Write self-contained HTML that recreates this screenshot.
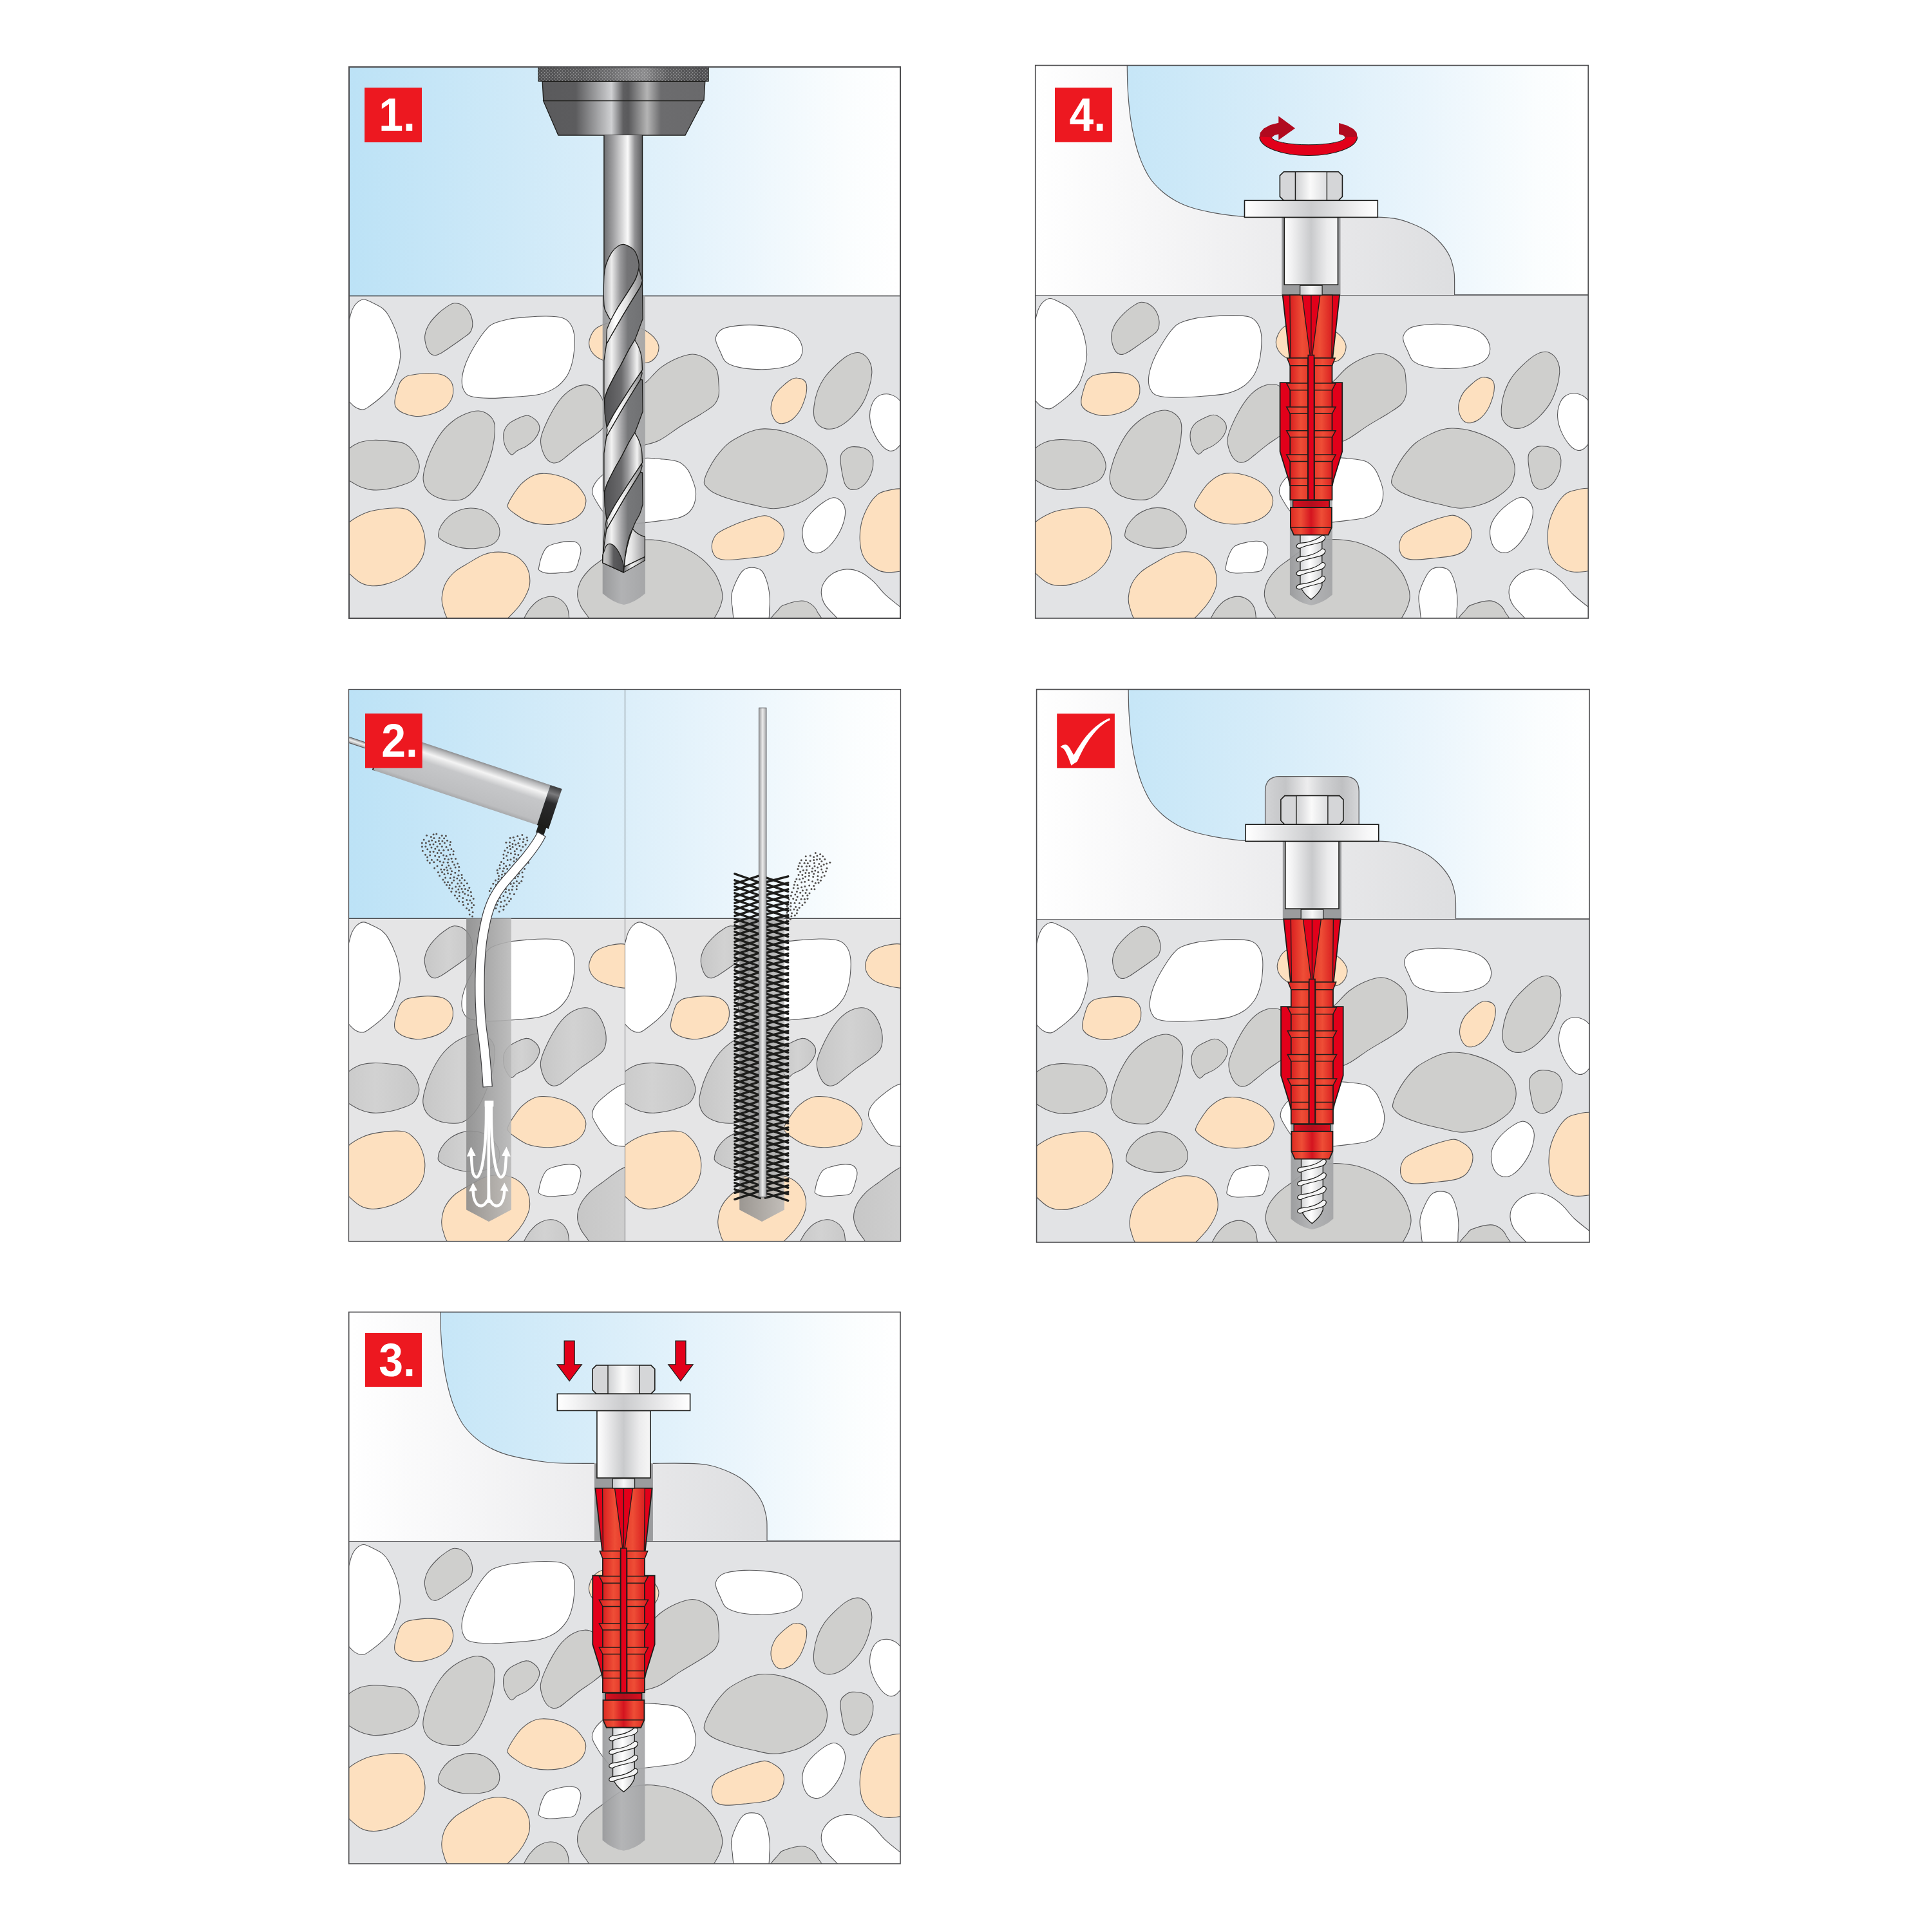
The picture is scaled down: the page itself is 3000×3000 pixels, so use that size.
<!DOCTYPE html>
<html><head><meta charset="utf-8"><title>Installation steps</title>
<style>html,body{margin:0;padding:0;background:#fff}svg{display:block}</style></head>
<body>
<svg xmlns="http://www.w3.org/2000/svg" width="3000" height="3000" viewBox="0 0 3000 3000">
<defs>

<linearGradient id="sky" x1="0" x2="1" y1="0" y2="0">
 <stop offset="0" stop-color="#bce2f6"/><stop offset="0.45" stop-color="#d8edf9"/><stop offset="0.7" stop-color="#eaf5fc"/><stop offset="0.9" stop-color="#fafdfe"/><stop offset="1" stop-color="#ffffff"/>
</linearGradient>
<linearGradient id="fix" x1="0" x2="1" y1="0" y2="0">
 <stop offset="0" stop-color="#ffffff"/><stop offset="0.5" stop-color="#efeff0"/><stop offset="1" stop-color="#dcdddf"/>
</linearGradient>

<g id="stones" stroke="#58585a" stroke-width="1.1">
<path fill="#ffffff" d="M-22.0 437.2C-18.9 422.0 -7.9 413.9 -3.4 404.0C1.1 394.2 2.1 384.4 4.9 378.2C7.7 371.9 10.1 369.0 13.2 366.4C16.3 363.7 19.4 361.8 23.5 362.0C27.7 362.2 33.2 365.5 38.0 367.8C42.8 370.1 48.5 372.8 52.5 376.1C56.5 379.4 58.4 381.4 61.8 387.5C65.3 393.5 70.5 404.7 73.2 412.3C76.0 419.9 77.3 426.5 78.4 433.0C79.5 439.6 80.2 445.4 79.8 451.7C79.5 457.9 78.5 463.0 76.3 470.3C74.2 477.5 71.0 488.2 67.0 495.1C63.0 502.0 58.4 506.2 52.5 511.7C46.6 517.2 37.0 524.6 31.8 528.3C26.6 531.9 25.3 533.3 21.5 533.4C17.7 533.6 13.2 532.1 9.0 529.3C4.9 526.5 1.8 522.6 -3.4 516.9C-8.6 511.2 -18.9 508.4 -22.0 495.1C-25.1 481.8 -25.1 452.3 -22.0 437.2Z"/>
<path style="fill:var(--gs,#cfcfcd)" d="M164.3 367.8C167.8 367.8 172.9 368.7 176.7 370.9C180.5 373.2 184.5 376.8 187.1 381.3C189.7 385.7 191.9 392.6 192.3 397.8C192.6 403.0 191.7 408.2 189.2 412.3C186.6 416.5 182.3 418.5 176.7 422.7C171.2 426.8 161.6 433.4 156.0 437.2C150.5 441.0 147.4 443.5 143.6 445.4C139.8 447.4 136.4 449.1 133.3 449.0C130.2 448.8 127.3 447.4 125.0 444.4C122.6 441.4 120.3 435.6 119.2 430.9C118.1 426.3 117.4 421.6 118.4 416.5C119.3 411.3 121.5 405.4 125.0 399.9C128.5 394.4 134.3 388.2 139.5 383.3C144.6 378.5 151.9 373.5 156.0 370.9C160.2 368.3 160.9 367.8 164.3 367.8Z"/>
<path fill="#ffffff" d="M276.1 389.5C285.8 388.8 297.9 387.9 307.2 388.1C316.5 388.3 325.8 388.6 332.0 390.6C338.2 392.5 341.3 395.6 344.4 399.9C347.5 404.2 349.6 409.6 350.6 416.5C351.7 423.4 351.3 433.4 350.6 441.3C350.0 449.2 348.6 457.2 346.5 464.1C344.4 471.0 342.4 476.8 338.2 482.7C334.1 488.6 328.6 494.8 321.7 499.3C314.8 503.8 307.2 507.2 296.8 509.6C286.5 512.0 272.7 512.7 259.6 513.8C246.4 514.8 229.9 516.0 218.1 515.8C206.4 515.7 195.7 514.8 189.2 512.7C182.6 510.7 181.0 507.4 178.8 503.4C176.6 499.4 175.7 494.4 175.7 488.9C175.7 483.4 176.9 476.8 178.8 470.3C180.7 463.7 183.3 457.2 187.1 449.6C190.9 442.0 197.1 431.6 201.6 424.7C206.1 417.8 210.2 412.3 214.0 408.2C217.8 404.0 218.5 402.5 224.4 399.9C230.2 397.3 240.6 394.4 249.2 392.6C257.8 390.9 266.5 390.3 276.1 389.5Z"/>
<path fill="#fde0bf" d="M98.1 479.6C103.9 478.6 115.0 476.9 122.9 476.9C130.8 476.9 139.8 477.6 145.7 479.6C151.5 481.6 155.3 485.3 158.1 488.9C160.9 492.5 161.9 496.9 162.2 501.3C162.6 505.8 161.9 511.3 160.2 515.8C158.4 520.3 155.3 524.8 151.9 528.3C148.4 531.7 145.0 534.1 139.5 536.5C133.9 539.0 125.0 541.5 118.8 542.8C112.6 544.0 108.1 544.5 102.2 543.8C96.3 543.1 88.4 540.9 83.6 538.6C78.7 536.4 75.3 533.1 73.2 530.3C71.1 527.6 71.1 525.5 71.1 522.0C71.1 518.6 71.8 514.8 73.2 509.6C74.6 504.4 77.0 495.5 79.4 491.0C81.8 486.5 84.6 484.6 87.7 482.7C90.8 480.8 92.2 480.6 98.1 479.6Z"/>
<path style="fill:var(--gs,#cfcfcd)" d="M201.6 535.5C207.1 535.7 212.1 537.9 216.1 540.7C220.0 543.4 223.6 547.6 225.4 552.1C227.2 556.6 227.4 560.5 227.0 567.6C226.7 574.7 225.5 585.2 223.3 594.5C221.1 603.8 218.0 613.8 214.0 623.5C210.0 633.2 205.0 644.5 199.5 652.5C194.0 660.4 187.1 667.4 180.9 671.1C174.7 674.8 169.1 674.8 162.2 674.8C155.3 674.8 146.0 673.5 139.5 671.1C132.9 668.8 126.9 665.2 122.9 660.8C118.9 656.3 116.5 650.1 115.7 644.2C114.8 638.3 115.8 633.2 117.7 625.6C119.6 618.0 122.7 608.0 127.0 598.7C131.4 589.3 137.7 577.6 143.6 569.7C149.5 561.7 155.7 556.0 162.2 551.0C168.8 546.0 176.4 542.2 182.9 539.6C189.5 537.1 196.1 535.3 201.6 535.5Z"/>
<path style="fill:var(--gs,#cfcfcd)" d="M277.1 542.8C281.3 542.9 285.4 545.5 288.5 547.9C291.6 550.3 294.6 554.0 295.8 557.2C297.0 560.5 297.0 563.8 295.8 567.6C294.6 571.4 291.8 576.2 288.5 580.0C285.3 583.8 280.6 587.4 276.1 590.4C271.6 593.3 265.4 595.4 261.6 597.6C257.8 599.9 256.1 604.3 253.3 603.8C250.6 603.3 247.1 598.1 245.1 594.5C243.0 590.9 241.5 586.6 240.9 582.1C240.3 577.6 240.0 572.1 241.3 567.6C242.7 563.1 245.5 558.6 249.2 555.2C252.9 551.7 259.0 549.0 263.7 546.9C268.4 544.8 273.0 542.6 277.1 542.8Z"/>
<path style="fill:var(--gs,#cfcfcd)" d="M367.0 495.0C372.5 494.8 377.0 496.0 381.5 499.6C386.0 503.1 390.8 509.6 393.9 516.1C397.0 522.7 399.6 531.7 400.2 538.9C400.7 546.1 400.2 553.7 397.0 559.6C393.9 565.5 387.6 569.3 381.5 574.1C375.5 578.9 367.7 583.4 360.8 588.6C353.9 593.8 345.6 600.8 340.1 605.2C334.6 609.5 331.5 612.6 327.7 614.5C323.9 616.4 320.8 617.4 317.3 616.5C313.9 615.7 309.9 613.3 307.0 609.3C304.1 605.3 301.1 597.9 299.7 592.7C298.4 587.6 297.8 583.8 298.7 578.2C299.6 572.7 301.8 566.8 304.9 559.6C308.0 552.4 312.9 542.3 317.3 534.8C321.8 527.2 326.7 519.7 331.8 514.1C337.0 508.4 342.5 503.8 348.4 500.6C354.3 497.4 361.5 495.2 367.0 495.0Z"/>
<path style="fill:var(--gs,#cfcfcd)" d="M534.7 447.2C542.3 447.2 549.2 450.1 555.4 454.0C561.6 457.9 568.6 464.4 572.0 470.6C575.3 476.8 574.9 484.4 575.5 491.3C576.1 498.2 576.8 506.1 575.5 512.0C574.2 517.8 572.6 521.6 567.9 526.5C563.1 531.3 555.8 535.4 547.2 541.0C538.5 546.5 526.4 553.0 516.1 559.6C505.7 566.2 493.7 575.6 485.0 580.3C476.4 585.0 470.2 586.1 464.3 587.6C458.5 589.0 453.6 593.0 449.8 589.0C446.0 585.0 442.9 574.9 441.6 563.7C440.2 552.6 440.2 532.7 441.6 522.3C442.9 512.0 446.0 507.2 449.8 501.6C453.6 496.1 458.5 494.7 464.3 489.2C470.2 483.7 477.4 474.4 485.0 468.5C492.6 462.6 501.6 457.6 509.9 454.0C518.2 450.5 527.1 447.2 534.7 447.2Z"/>
<path style="fill:var(--gs,#cfcfcd)" d="M-24.1 619.4C-20.6 614.2 -9.9 602.7 -3.4 597.0C3.2 591.3 8.3 587.9 15.2 585.2C22.1 582.5 30.1 581.5 38.0 581.1C46.0 580.6 54.9 581.6 62.9 582.5C70.8 583.4 79.4 583.5 85.6 586.2C91.8 588.9 96.3 593.8 100.1 598.7C103.9 603.5 107.0 610.4 108.4 615.2C109.9 620.0 110.0 623.2 108.8 627.6C107.6 632.1 104.7 638.5 101.2 642.1C97.6 645.8 94.1 647.0 87.7 649.4C81.3 651.8 71.1 655.1 62.9 656.6C54.6 658.2 45.6 659.2 38.0 658.7C30.4 658.2 24.2 656.3 17.3 653.5C10.4 650.7 3.5 646.0 -3.4 641.7C-10.3 637.4 -20.6 631.4 -24.1 627.6C-27.5 623.9 -27.5 624.5 -24.1 619.4Z"/>
<path fill="#fde0bf" d="M301.0 633.1C307.9 632.9 317.5 633.8 325.8 636.2C334.1 638.6 344.1 642.9 350.6 647.6C357.2 652.2 362.1 659.3 365.1 664.1C368.2 668.9 369.2 671.7 368.9 676.5C368.5 681.4 366.8 688.3 363.1 693.1C359.3 697.9 353.4 702.4 346.5 705.5C339.6 708.6 329.9 710.7 321.7 711.7C313.4 712.8 304.4 712.6 296.8 711.7C289.2 710.9 282.7 709.3 276.1 706.6C269.6 703.8 262.1 698.5 257.5 695.2C252.8 691.9 249.8 689.3 248.2 686.9C246.5 684.5 246.3 684.1 247.5 680.7C248.8 677.2 252.0 671.4 255.4 666.2C258.8 661.0 263.0 654.5 267.8 649.6C272.7 644.8 278.9 640.0 284.4 637.2C289.9 634.4 294.1 633.2 301.0 633.1Z"/>
<path fill="#fde0bf" d="M-24.1 738.7C-20.6 730.1 -11.0 719.2 -3.4 712.2C4.2 705.1 12.8 700.1 21.5 696.2C30.1 692.3 38.0 690.4 48.4 689.0C58.7 687.5 74.9 686.1 83.6 687.3C92.2 688.5 95.3 691.8 100.1 696.2C105.0 700.6 109.5 707.1 112.6 713.8C115.6 720.5 117.8 729.0 118.4 736.6C118.9 744.2 118.0 752.5 115.7 759.4C113.3 766.3 109.6 772.1 104.3 778.0C98.9 783.9 91.2 790.1 83.6 794.6C76.0 799.0 66.7 802.7 58.7 804.9C50.8 807.1 42.8 808.4 35.9 808.0C29.0 807.7 23.9 806.6 17.3 802.8C10.8 799.0 3.5 791.8 -3.4 785.2C-10.3 778.7 -20.6 771.3 -24.1 763.5C-27.5 755.7 -27.5 747.2 -24.1 738.7Z"/>
<path style="fill:var(--gs,#cfcfcd)" d="M189.2 686.9C195.0 686.9 202.3 687.9 207.8 690.0C213.3 692.1 218.3 695.7 222.3 699.3C226.3 702.9 229.5 707.8 231.6 711.7C233.7 715.7 234.7 719.2 234.7 723.1C234.7 727.1 234.0 731.9 231.6 735.5C229.2 739.2 225.6 742.6 220.2 744.9C214.9 747.2 206.8 748.7 199.5 749.4C192.3 750.1 184.0 750.1 176.7 749.0C169.5 747.9 161.9 745.2 156.0 742.8C150.2 740.4 144.4 737.1 141.5 734.5C138.7 731.9 138.7 730.7 139.1 727.3C139.4 723.8 140.8 718.5 143.6 713.8C146.4 709.1 151.2 703.3 156.0 699.3C160.9 695.3 167.1 692.1 172.6 690.0C178.1 687.9 183.3 686.9 189.2 686.9Z"/>
<path fill="#fde0bf" d="M402.2 399.1C409.1 397.4 418.4 394.8 427.1 396.0C435.7 397.2 446.4 402.6 454.0 406.4C461.6 410.2 468.0 414.3 472.6 418.8C477.3 423.3 480.7 428.5 481.9 433.3C483.1 438.1 481.8 443.7 479.9 447.8C478.0 451.9 474.2 455.9 470.5 458.2C466.9 460.4 465.4 460.2 458.1 461.3C450.9 462.3 437.8 465.2 427.1 464.4C416.4 463.5 401.9 459.2 393.9 456.1C386.0 453.0 382.8 449.9 379.4 445.7C376.1 441.6 374.0 436.1 373.7 431.2C373.3 426.4 375.4 420.9 377.4 416.7C379.4 412.6 381.5 409.3 385.7 406.4C389.8 403.5 395.3 400.9 402.2 399.1Z"/>
<path fill="#ffffff" d="M458.1 609.3C468.5 608.4 476.1 609.5 485.0 610.3C494.0 611.2 505.1 611.9 512.0 614.5C518.9 617.1 522.7 621.2 526.4 625.9C530.2 630.5 532.5 636.6 534.7 642.4C537.0 648.3 539.4 654.8 539.9 661.1C540.4 667.3 539.7 674.2 537.8 679.7C535.9 685.2 532.8 690.4 528.5 694.2C524.2 698.0 519.2 700.4 512.0 702.5C504.7 704.5 496.1 705.2 485.0 706.6C474.0 708.0 457.8 710.4 445.7 710.7C433.6 711.1 420.7 711.4 412.6 708.7C404.5 705.9 401.5 699.4 397.0 694.2C392.6 689.0 388.7 682.8 385.7 677.6C382.6 672.4 379.5 667.6 378.8 663.1C378.1 658.6 379.0 655.2 381.5 650.7C384.0 646.2 387.0 642.1 393.9 636.2C400.8 630.3 412.2 620.0 422.9 615.5C433.6 611.0 447.8 610.2 458.1 609.3Z"/>
<path fill="#ffffff" d="M615.3 402.0C625.3 401.4 636.0 402.0 646.4 403.0C656.7 404.0 669.2 405.6 677.4 408.2C685.7 410.8 691.4 414.0 696.1 418.5C700.7 423.0 704.2 429.6 705.4 435.1C706.6 440.6 705.9 447.0 703.3 451.7C700.7 456.3 695.9 460.1 689.9 463.0C683.8 466.0 676.1 467.9 667.1 469.3C658.1 470.6 646.4 471.3 636.0 470.9C625.7 470.6 613.3 469.2 605.0 467.2C596.7 465.2 590.8 462.9 586.3 458.9C581.9 454.9 580.5 448.4 578.1 443.4C575.6 438.4 573.0 432.7 571.8 428.9C570.7 425.1 570.5 423.4 571.2 420.6C571.9 417.8 573.5 414.7 576.0 412.3C578.5 409.9 579.8 407.8 586.3 406.1C592.9 404.4 605.3 402.5 615.3 402.0Z"/>
<path fill="#fde0bf" d="M698.1 484.4C701.2 484.7 706.1 485.7 708.5 487.9C710.9 490.0 712.3 492.9 712.6 497.2C713.0 501.5 712.3 507.6 710.6 513.8C708.8 520.0 705.7 528.6 702.3 534.5C698.8 540.3 694.3 545.5 689.9 549.0C685.4 552.4 679.5 554.7 675.4 555.2C671.2 555.7 668.0 554.8 665.0 552.1C662.1 549.3 659.0 543.3 657.8 538.6C656.6 534.0 656.6 529.3 657.8 524.1C659.0 518.9 661.4 512.7 665.0 507.6C668.6 502.4 675.4 496.7 679.5 493.1C683.7 489.4 686.8 487.3 689.9 485.8C693.0 484.4 695.0 484.0 698.1 484.4Z"/>
<path style="fill:var(--gs,#cfcfcd)" d="M791.3 444.8C796.1 444.6 800.3 446.7 803.7 449.6C807.2 452.4 810.3 457.5 812.0 462.0C813.7 466.5 814.4 470.3 814.1 476.5C813.7 482.7 812.4 491.3 809.9 499.3C807.5 507.2 804.1 516.5 799.6 524.1C795.1 531.7 788.9 539.0 783.0 544.8C777.2 550.7 770.3 556.1 764.4 559.3C758.5 562.5 753.0 563.9 747.8 563.9C742.7 563.9 737.2 562.1 733.3 559.3C729.5 556.5 726.2 552.1 724.6 546.9C723.1 541.7 723.3 535.2 724.0 528.3C724.8 521.4 726.6 512.7 729.2 505.5C731.8 498.2 735.1 491.3 739.6 484.8C744.0 478.2 750.2 471.8 756.1 466.1C762.0 460.5 768.9 454.2 774.7 450.6C780.6 447.1 786.5 445.0 791.3 444.8Z"/>
<path fill="#ffffff" d="M882.4 549.0C879.1 542.9 867.9 531.0 862.7 525.2C857.6 519.3 855.7 516.4 851.4 513.8C847.0 511.1 841.7 509.2 836.9 509.2C832.0 509.2 826.3 510.6 822.4 513.8C818.4 516.9 814.9 522.7 813.1 528.3C811.2 533.8 810.5 540.3 811.0 546.9C811.5 553.4 813.2 560.7 816.2 567.6C819.1 574.5 824.4 583.3 828.6 588.3C832.7 593.3 837.2 596.4 841.0 597.6C844.8 598.8 847.7 598.0 851.4 595.5C855.0 593.1 857.6 588.8 862.7 583.1C867.9 577.4 879.1 567.1 882.4 561.4C885.7 555.7 885.7 555.0 882.4 549.0Z"/>
<path style="fill:var(--gs,#cfcfcd)" d="M648.5 563.5C656.0 563.8 667.4 564.8 677.4 567.6C687.4 570.4 699.5 575.2 708.5 580.0C717.5 584.8 725.6 590.7 731.3 596.6C737.0 602.4 740.5 609.0 742.7 615.2C744.8 621.4 745.0 627.6 744.1 633.8C743.2 640.1 741.7 646.6 737.5 652.5C733.3 658.3 726.1 664.2 718.8 669.0C711.6 673.9 703.7 678.4 694.0 681.5C684.3 684.6 671.9 687.7 660.9 687.7C649.8 687.7 638.8 683.9 627.7 681.5C616.7 679.1 604.6 676.3 594.6 673.2C584.6 670.1 574.3 666.3 567.7 662.8C561.2 659.4 557.7 655.6 555.3 652.5C552.9 649.4 552.5 648.3 553.2 644.2C553.9 640.1 556.3 633.8 559.4 627.6C562.5 621.4 566.7 613.8 571.8 606.9C577.0 600.0 583.2 592.1 590.5 586.2C597.7 580.4 608.4 575.2 615.3 571.7C622.2 568.3 626.4 566.9 631.9 565.5C637.4 564.1 640.9 563.1 648.5 563.5Z"/>
<path style="fill:var(--gs,#cfcfcd)" d="M783.0 591.4C787.5 591.2 796.8 591.9 801.7 593.5C806.5 595.0 809.6 597.4 812.0 600.7C814.4 604.0 815.8 608.3 816.2 613.1C816.5 618.0 815.8 624.2 814.1 629.7C812.4 635.2 809.3 641.8 805.8 646.3C802.4 650.8 797.5 654.7 793.4 656.6C789.2 658.5 784.4 658.7 781.0 657.7C777.5 656.6 774.7 654.0 772.7 650.4C770.6 646.8 769.7 641.8 768.5 635.9C767.3 630.1 765.8 620.7 765.4 615.2C765.1 609.7 764.9 606.2 766.5 602.8C768.0 599.3 772.0 596.4 774.7 594.5C777.5 592.6 778.5 591.6 783.0 591.4Z"/>
<path fill="#ffffff" d="M754.0 670.7C758.9 670.4 763.4 673.2 766.5 676.5C769.6 679.9 772.3 684.8 772.7 691.0C773.0 697.2 771.3 706.2 768.5 713.8C765.8 721.4 760.9 730.0 756.1 736.6C751.3 743.1 744.7 749.8 739.6 753.1C734.4 756.5 729.5 757.4 725.1 756.7C720.6 756.0 715.7 753.0 712.6 749.0C709.5 745.0 707.3 738.3 706.4 732.4C705.6 726.6 705.4 720.0 707.5 713.8C709.5 707.6 713.8 701.0 718.8 695.2C723.9 689.3 731.6 682.7 737.5 678.6C743.3 674.5 749.2 671.1 754.0 670.7Z"/>
<path fill="#fde0bf" d="M884.5 676.5C881.0 657.8 872.4 660.1 863.8 657.5C855.1 654.9 840.3 658.9 832.7 661.0C825.1 663.2 822.7 665.7 818.2 670.3C813.7 675.0 809.3 682.1 805.8 689.0C802.4 695.9 799.2 703.8 797.5 711.7C795.8 719.7 795.1 728.6 795.5 736.6C795.8 744.5 796.8 752.8 799.6 759.4C802.4 765.9 806.5 771.4 812.0 775.9C817.5 780.4 824.1 785.0 832.7 786.3C841.3 787.6 855.1 786.5 863.8 783.8C872.4 781.0 881.0 787.6 884.5 769.7C887.9 751.8 887.9 695.2 884.5 676.5Z"/>
<path fill="#fde0bf" d="M646.4 698.7C653.3 698.3 656.4 700.9 660.9 703.5C665.4 706.0 670.5 710.0 673.3 713.8C676.1 717.6 677.3 721.7 677.4 726.2C677.6 730.7 676.4 736.1 674.3 740.7C672.3 745.4 669.3 750.7 665.0 754.2C660.7 757.6 656.7 759.5 648.5 761.4C640.2 763.3 625.7 764.5 615.3 765.6C605.0 766.6 593.6 768.0 586.3 767.6C579.1 767.3 575.3 765.9 571.8 763.5C568.4 761.1 566.6 757.3 565.6 753.1C564.7 749.0 564.7 743.1 566.1 738.7C567.4 734.2 569.5 730.0 573.9 726.2C578.3 722.4 585.0 719.3 592.6 715.9C600.1 712.4 610.5 708.4 619.5 705.5C628.4 702.7 639.5 699.0 646.4 698.7Z"/>
<path fill="#fde0bf" d="M232.6 755.2C240.2 755.2 248.9 756.6 255.4 759.4C262.0 762.1 267.8 766.9 272.0 771.8C276.1 776.6 278.8 782.1 280.3 788.3C281.7 794.6 282.2 802.0 280.7 809.0C279.1 816.1 275.0 824.1 270.9 830.8C266.8 837.5 261.7 843.7 256.0 849.4C250.3 855.1 246.5 861.0 236.8 864.9C227.0 868.9 210.6 873.6 197.4 873.2C184.3 872.9 166.6 868.1 158.1 862.9C149.6 857.7 149.0 848.4 146.7 842.2C144.5 836.0 144.1 831.8 144.6 825.6C145.2 819.4 146.5 811.5 149.8 804.9C153.1 798.3 158.1 791.8 164.3 786.3C170.5 780.7 179.5 776.3 187.1 771.8C194.7 767.3 202.3 762.1 209.9 759.4C217.5 756.6 225.0 755.2 232.6 755.2Z"/>
<path fill="#ffffff" d="M342.4 738.7C347.2 738.6 351.7 738.7 354.8 740.7C357.9 742.8 360.5 746.6 361.0 751.1C361.5 755.6 359.6 762.1 357.9 767.6C356.2 773.2 355.0 780.9 350.6 784.2C346.3 787.5 338.9 786.6 332.0 787.3C325.1 788.0 315.1 788.9 309.2 788.3C303.4 787.8 299.1 785.9 296.8 784.2C294.6 782.5 295.1 782.1 295.8 778.0C296.5 773.8 298.7 764.5 301.0 759.4C303.2 754.2 305.1 750.0 309.2 746.9C313.4 743.9 320.3 742.5 325.8 741.1C331.3 739.8 337.5 738.7 342.4 738.7Z"/>
<path style="fill:var(--gs,#cfcfcd)" d="M263.7 875.3C251.7 872.5 269.5 864.0 272.4 858.7C275.3 853.5 277.6 848.5 281.3 843.8C285.0 839.2 289.4 834.0 294.7 830.8C300.1 827.6 307.5 824.7 313.4 824.6C319.2 824.4 325.5 826.8 329.9 829.7C334.4 832.7 337.7 837.3 339.9 842.2C342.0 847.0 342.0 853.2 342.8 858.7C343.5 864.3 357.6 872.5 344.4 875.3C331.3 878.1 275.7 878.1 263.7 875.3Z"/>
<path style="fill:var(--gs,#cfcfcd)" d="M470.5 736.2C480.9 736.9 493.7 738.2 505.7 742.4C517.8 746.5 532.7 753.8 543.0 761.0C553.4 768.3 561.8 777.6 567.9 785.9C573.9 794.1 577.0 803.8 579.2 810.7C581.5 817.6 581.8 821.7 581.3 827.3C580.9 832.8 578.9 838.3 576.6 843.8C574.2 849.3 571.0 854.5 567.4 860.4C563.9 866.3 572.6 873.5 555.4 879.0C538.2 884.5 492.6 893.5 464.3 893.5C436.0 893.5 401.0 885.2 385.7 879.0C370.3 872.8 376.3 862.8 372.2 856.2C368.1 849.7 363.6 845.6 360.8 839.7C358.1 833.8 355.6 827.6 355.6 821.1C355.6 814.5 357.5 806.9 360.8 800.3C364.1 793.8 369.8 787.2 375.3 781.7C380.8 776.2 386.0 773.1 393.9 767.2C401.9 761.4 414.6 751.3 422.9 746.5C431.2 741.7 435.7 740.0 443.6 738.2C451.6 736.5 460.2 735.5 470.5 736.2Z"/>
<path fill="#ffffff" d="M626.7 779.4C631.5 779.4 638.3 780.6 642.2 784.2C646.2 787.8 648.5 794.6 650.5 800.8C652.6 807.0 654.0 814.6 654.7 821.5C655.4 828.4 655.7 834.6 654.7 842.2C653.6 849.8 656.7 862.9 648.5 867.0C640.2 871.2 613.6 871.5 605.0 867.0C596.3 862.5 598.2 847.7 596.7 840.1C595.1 832.5 594.6 828.0 595.7 821.5C596.7 814.9 600.0 807.0 602.9 800.8C605.8 794.6 609.3 787.8 613.3 784.2C617.2 780.6 621.9 779.4 626.7 779.4Z"/>
<path style="fill:var(--gs,#cfcfcd)" d="M658.8 867.0C648.3 863.2 665.7 849.2 669.2 844.2C672.6 839.2 673.6 839.1 679.5 837.0C685.4 834.9 697.8 831.6 704.4 831.4C710.9 831.2 714.7 833.1 718.8 836.0C723.0 838.8 727.0 843.2 729.2 848.4C731.4 853.6 744.0 863.9 732.3 867.0C720.6 870.1 669.3 870.8 658.8 867.0Z"/>
<path fill="#ffffff" d="M764.4 862.9C757.8 855.3 746.5 845.3 741.6 838.0C736.8 830.8 735.8 825.3 735.4 819.4C735.1 813.5 736.4 808.0 739.6 802.8C742.7 797.7 748.2 791.8 754.0 788.3C759.9 784.9 767.8 782.5 774.7 782.1C781.6 781.8 788.6 783.2 795.5 786.3C802.4 789.4 809.6 794.9 816.2 800.8C822.7 806.6 826.9 814.0 834.8 821.5C842.7 828.9 855.5 838.4 863.8 845.3C872.1 852.2 881.0 856.5 884.5 862.9C887.9 869.3 901.7 880.1 884.5 883.6C867.2 887.0 801.0 887.0 781.0 883.6C760.9 880.1 771.0 870.5 764.4 862.9Z"/>
</g>
<clipPath id="cp1"><rect x="0" y="0" width="856.0" height="856.0"/></clipPath>
<linearGradient id="dA" gradientUnits="userSpaceOnUse" x1="395.7" x2="455.7" y1="0" y2="0"><stop offset="0" stop-color="#b5b5b7"/><stop offset="0.2" stop-color="#f2f2f2"/><stop offset="0.45" stop-color="#a5a5a7"/><stop offset="0.62" stop-color="#77787a"/><stop offset="1" stop-color="#707173"/></linearGradient>
<linearGradient id="dB" gradientUnits="userSpaceOnUse" x1="395.7" x2="455.7" y1="0" y2="0"><stop offset="0" stop-color="#505052"/><stop offset="0.45" stop-color="#6a6a6c"/><stop offset="0.62" stop-color="#9a9a9c"/><stop offset="0.86" stop-color="#f2f2f2"/><stop offset="1" stop-color="#a0a0a0"/></linearGradient>
<linearGradient id="dC" gradientUnits="userSpaceOnUse" x1="395.7" x2="455.7" y1="0" y2="0"><stop offset="0" stop-color="#c8c8c8"/><stop offset="0.3" stop-color="#ffffff"/><stop offset="0.6" stop-color="#e0e0e0"/><stop offset="1" stop-color="#808082"/></linearGradient>
<linearGradient id="dS" gradientUnits="userSpaceOnUse" x1="395.7" x2="455.7" y1="0" y2="0"><stop offset="0" stop-color="#6e6e70"/><stop offset="0.25" stop-color="#a2a2a4"/><stop offset="0.62" stop-color="#fafafa"/><stop offset="0.8" stop-color="#929294"/><stop offset="1" stop-color="#5e5e60"/></linearGradient>
<linearGradient id="dR" gradientUnits="userSpaceOnUse" x1="395.7" x2="455.7" y1="0" y2="0"><stop offset="0" stop-color="#a8a8aa"/><stop offset="0.2" stop-color="#ececec"/><stop offset="0.42" stop-color="#9a9a9c"/><stop offset="0.6" stop-color="#747476"/><stop offset="1" stop-color="#707072"/></linearGradient>
<linearGradient id="dArc" gradientUnits="userSpaceOnUse" x1="393.7" x2="427.7" y1="0" y2="0"><stop offset="0" stop-color="#d0d0d0"/><stop offset="0.25" stop-color="#b0b0b0"/><stop offset="0.5" stop-color="#5c5c5e"/><stop offset="1" stop-color="#4c4c4e"/></linearGradient>
<linearGradient id="dHead" gradientUnits="userSpaceOnUse" x1="427.7" x2="459.7" y1="0" y2="0"><stop offset="0" stop-color="#f6f6f6"/><stop offset="0.35" stop-color="#e4e4e4"/><stop offset="1" stop-color="#9a9a9c"/></linearGradient>
<linearGradient id="dCh" gradientUnits="userSpaceOnUse" x1="427.7" x2="459.7" y1="0" y2="0"><stop offset="0" stop-color="#7a7a7c"/><stop offset="0.35" stop-color="#f4f4f4"/><stop offset="0.7" stop-color="#c8c8c8"/><stop offset="1" stop-color="#6e6e70"/></linearGradient>
<linearGradient id="gChuck" gradientUnits="userSpaceOnUse" x1="294.0" x2="558.0" y1="0" y2="0"><stop offset="0" stop-color="#5a5a5c"/><stop offset="0.22" stop-color="#5c5c5e"/><stop offset="0.43" stop-color="#cfd0d2"/><stop offset="0.5" stop-color="#5e5e60"/><stop offset="0.53" stop-color="#5a5a5c"/><stop offset="0.64" stop-color="#b4b4b4"/><stop offset="0.72" stop-color="#6c6c6e"/><stop offset="1" stop-color="#69696b"/></linearGradient>
<linearGradient id="gKn" gradientUnits="userSpaceOnUse" x1="294.0" x2="558.0" y1="0" y2="0"><stop offset="0" stop-color="#4e4e50"/><stop offset="0.3" stop-color="#5a5a5c"/><stop offset="0.62" stop-color="#8a8a8c"/><stop offset="0.75" stop-color="#5c5c5e"/><stop offset="1" stop-color="#4a4a4c"/></linearGradient>
<pattern id="knurl" width="5" height="5" patternUnits="userSpaceOnUse"><rect width="5" height="5" fill="none"/><circle cx="1.2" cy="1.2" r="0.9" fill="#c8c8c8" fill-opacity="0.55"/><circle cx="3.7" cy="3.7" r="0.9" fill="#c8c8c8" fill-opacity="0.55"/></pattern>
<linearGradient id="gHole1" gradientUnits="userSpaceOnUse" x1="393" x2="460" y1="0" y2="0"><stop offset="0" stop-color="#939496"/><stop offset="0.45" stop-color="#aeafb1"/><stop offset="1" stop-color="#a1a2a4"/></linearGradient>
<clipPath id="cp2"><rect x="0" y="0" width="857.0" height="857.0"/></clipPath>

<linearGradient id="gCyl" gradientUnits="userSpaceOnUse" x1="0" y1="-32.7" x2="0" y2="32.7">
 <stop offset="0" stop-color="#8c8d8f"/><stop offset="0.06" stop-color="#b4b5b7"/><stop offset="0.22" stop-color="#f4f4f4"/><stop offset="0.42" stop-color="#c6c7c9"/><stop offset="0.9" stop-color="#bdbec0"/><stop offset="1" stop-color="#a8a9ab"/>
</linearGradient>
<linearGradient id="gCapB" gradientUnits="userSpaceOnUse" x1="0" y1="-32.7" x2="0" y2="32.7">
 <stop offset="0" stop-color="#3a3a3c"/><stop offset="0.18" stop-color="#7a7a7c"/><stop offset="0.4" stop-color="#2a2a2c"/><stop offset="1" stop-color="#1d1d1b"/>
</linearGradient>
<linearGradient id="gRod" gradientUnits="userSpaceOnUse" x1="0" y1="-4.3" x2="0" y2="4.3">
 <stop offset="0" stop-color="#8c8d8f"/><stop offset="0.45" stop-color="#f0f0f0"/><stop offset="1" stop-color="#9c9d9f"/>
</linearGradient>
<linearGradient id="gBrushRod" x1="0" x2="1" y1="0" y2="0">
 <stop offset="0" stop-color="#98999b"/><stop offset="0.5" stop-color="#ececec"/><stop offset="1" stop-color="#a4a5a7"/>
</linearGradient>
<linearGradient id="gHole2" x1="0" x2="1" y1="0" y2="0">
 <stop offset="0" stop-color="#8a8a8a"/><stop offset="1" stop-color="#b8b8b8"/>
</linearGradient>
<linearGradient id="gStone2" x1="0" x2="1" y1="0" y2="0">
 <stop offset="0" stop-color="#c7c7c7"/><stop offset="0.5" stop-color="#d2d2d2"/><stop offset="1" stop-color="#c8c8c8"/>
</linearGradient>
<linearGradient id="gP2ov" x1="0" x2="1" y1="0" y2="0">
 <stop offset="0" stop-color="#ffffff" stop-opacity="0.35"/><stop offset="1" stop-color="#ffffff" stop-opacity="0"/>
</linearGradient>

<clipPath id="cp2a"><rect x="0" y="0" width="429.0" height="857.0"/></clipPath>
<clipPath id="cp2b"><rect x="429.0" y="0" width="428.0" height="857.0"/></clipPath>
<clipPath id="cp3"><rect x="0" y="0" width="856.3" height="856.6"/></clipPath>

<linearGradient id="gWasher" x1="0" x2="1" y1="0" y2="0">
 <stop offset="0" stop-color="#ffffff"/><stop offset="0.12" stop-color="#f4f4f5"/><stop offset="0.5" stop-color="#cbccce"/><stop offset="0.88" stop-color="#f4f4f5"/><stop offset="1" stop-color="#ffffff"/>
</linearGradient>
<linearGradient id="gSleeve" x1="0" x2="1" y1="0" y2="0">
 <stop offset="0" stop-color="#ffffff"/><stop offset="0.15" stop-color="#f0f0f1"/><stop offset="0.5" stop-color="#c9cacc"/><stop offset="0.8" stop-color="#ececed"/><stop offset="1" stop-color="#f6f6f6"/>
</linearGradient>
<linearGradient id="gHexC" x1="0" x2="1" y1="0" y2="0">
 <stop offset="0" stop-color="#cfd0d2"/><stop offset="0.48" stop-color="#fafafa"/><stop offset="1" stop-color="#dcdddf"/>
</linearGradient>
<linearGradient id="gCap" x1="0" x2="1" y1="0" y2="0">
 <stop offset="0" stop-color="#d2d3d5"/><stop offset="0.22" stop-color="#c4c5c7"/><stop offset="0.45" stop-color="#ededee"/><stop offset="0.62" stop-color="#d0d1d3"/><stop offset="0.82" stop-color="#bfc0c2"/><stop offset="1" stop-color="#d6d7d9"/>
</linearGradient>
<linearGradient id="gNeck" x1="0" x2="1" y1="0" y2="0">
 <stop offset="0" stop-color="#c9cacc"/><stop offset="0.5" stop-color="#f8f8f8"/><stop offset="1" stop-color="#cfd0d2"/>
</linearGradient>
<linearGradient id="gShaftL" x1="0" x2="1" y1="0" y2="0">
 <stop offset="0" stop-color="#d91f20"/><stop offset="0.6" stop-color="#ee4e36"/><stop offset="1" stop-color="#e63a2b"/>
</linearGradient>
<linearGradient id="gShaftR" x1="0" x2="1" y1="0" y2="0">
 <stop offset="0" stop-color="#e63a2b"/><stop offset="0.4" stop-color="#ee4e36"/><stop offset="1" stop-color="#d91f20"/>
</linearGradient>
<linearGradient id="gNut" x1="0" x2="1" y1="0" y2="0">
 <stop offset="0" stop-color="#dc2a22"/><stop offset="0.25" stop-color="#ee4e36"/><stop offset="0.5" stop-color="#d4141f"/><stop offset="0.75" stop-color="#ee4e36"/><stop offset="1" stop-color="#dc2a22"/>
</linearGradient>
<linearGradient id="gNeckR" x1="0" x2="1" y1="0" y2="0">
 <stop offset="0" stop-color="#d8101f"/><stop offset="0.5" stop-color="#b20d1d"/><stop offset="1" stop-color="#d8101f"/>
</linearGradient>
<linearGradient id="gScrew" x1="0" x2="1" y1="0" y2="0">
 <stop offset="0" stop-color="#d4d5d7"/><stop offset="0.45" stop-color="#ffffff"/><stop offset="1" stop-color="#cfd0d2"/>
</linearGradient>
<linearGradient id="gHole" x1="0" x2="1" y1="0" y2="0">
 <stop offset="0" stop-color="#97989a"/><stop offset="0.45" stop-color="#b1b2b4"/><stop offset="1" stop-color="#a2a3a5"/>
</linearGradient>

<linearGradient id="fixg" gradientUnits="userSpaceOnUse" x1="0" x2="660" y1="0" y2="0"><stop offset="0" stop-color="#ffffff"/><stop offset="0.25" stop-color="#f7f7f8"/><stop offset="0.65" stop-color="#e9e9eb"/><stop offset="1" stop-color="#dddee0"/></linearGradient>
<clipPath id="cp4"><rect x="0" y="0" width="858.5" height="858.5"/></clipPath>
<clipPath id="cp5"><rect x="0" y="0" width="858.4" height="858.5"/></clipPath>
</defs>
<rect width="3000" height="3000" fill="#fff"/>
<g transform="translate(542.0 104.0)"><g clip-path="url(#cp1)">
<rect x="0" y="0" width="856.0" height="355.4" fill="url(#sky)"/>
<rect x="0" y="355.4" width="861.0" height="505.6" fill="#e2e3e5"/><g transform="scale(0.99720)"><use href="#stones"/></g>
<line x1="0" y1="355.4" x2="861.0" y2="355.4" stroke="#3a3a3c" stroke-width="1.5"/>
<path d="M393.7 355.4 L393.7 817.5 Q410.2 832.0 426.8 835.1 Q443.4 832.0 459.9 817.5 L459.9 355.4 Z" fill="url(#gHole1)" fill-opacity="0.9"/>
<path d="M301.6 52.5 L550.1 52.5 L522.0 106.0 L324.9 106.0 Z" fill="url(#gChuck)" stroke="#1d1d1b" stroke-width="1.3"/>
<path d="M300.2 22.3 L552.8 22.3 L551.0 52.3 L301.8 52.3 Z" fill="url(#gChuck)" stroke="#1d1d1b" stroke-width="1.3"/>
<rect x="294.1" y="-2" width="264" height="24.1" fill="url(#gKn)" stroke="#1d1d1b" stroke-width="1.2"/>
<rect x="294.1" y="-2" width="264" height="24.1" fill="url(#knurl)"/>
<rect x="395.9" y="106" width="59.6" height="250" fill="url(#dS)"/>
<line x1="395.9" y1="106" x2="395.9" y2="372" stroke="#1d1d1b" stroke-width="1.4"/>
<line x1="455.5" y1="106" x2="455.5" y2="333" stroke="#1d1d1b" stroke-width="1.4"/>
<clipPath id="cpDrill"><rect x="380" y="0" width="100" height="800"/></clipPath>
<g clip-path="url(#cpDrill)" stroke="#1d1d1b" stroke-width="1.3" stroke-linejoin="round">
<path d="M455.5 331.6 L455.5 331.6C455.0 333.2 456.8 333.4 452.4 341.2C448.0 349.1 437.1 365.7 429.4 378.6C421.7 391.4 411.4 409.6 406.4 418.2C401.4 426.9 400.7 428.6 399.6 430.6 L395.9 455.8 L395.9 513.8 L396.5 516.3C397.3 513.8 399.0 507.2 401.5 501.4C404.0 495.6 407.9 488.2 411.4 481.6C414.9 475.0 418.7 468.9 422.6 461.7C426.5 454.4 431.5 444.4 435.0 438.1C438.5 431.8 440.2 431.7 443.7 423.8C447.2 415.9 454.0 396.4 456.1 390.9 L455.5 341.8 Z" fill="url(#dA)"/>
<path d="M407.1 391.8C404.4 393.0 402.1 386.3 400.2 382.5C398.3 378.7 396.6 378.4 395.9 368.9C395.2 359.4 395.4 335.8 395.9 325.4C396.4 315.0 397.0 312.9 399.0 306.7C401.0 300.5 404.6 292.9 407.7 288.1C410.8 283.4 414.3 280.3 417.6 278.2C420.9 276.1 423.5 274.7 427.6 275.7C431.8 276.7 438.9 280.3 442.5 284.4C446.1 288.5 448.1 295.7 449.3 300.5C450.5 305.3 450.6 308.2 449.9 313.0C449.2 317.8 447.9 322.9 445.0 329.1C442.1 335.3 437.3 342.5 432.5 350.2C427.7 357.9 420.6 368.2 416.4 375.1C412.2 382.0 409.8 390.6 407.1 391.8Z" fill="url(#dR)"/>
<path d="M449.9 313.0 L449.9 313.0C449.1 315.7 447.9 322.9 445.0 329.1C442.1 335.3 437.3 342.5 432.5 350.2C427.7 357.9 420.6 368.2 416.4 375.1C412.2 382.0 409.8 386.5 407.1 391.8C404.5 397.1 401.6 404.5 400.5 407.0 L399.6 430.6 L399.6 430.6C400.7 428.6 401.4 426.9 406.4 418.2C411.4 409.6 421.7 391.4 429.4 378.6C437.1 365.7 448.6 347.5 452.4 341.2 L455.5 331.6 Z" fill="url(#dC)"/>
<path d="M452.4 485.3 L452.4 485.3C448.6 491.5 437.1 509.8 429.4 522.6C421.7 535.4 411.4 553.6 406.4 562.3C401.4 571.0 400.7 572.6 399.6 574.7 L395.9 599.8 L395.9 657.9 L396.5 660.3C397.3 657.9 399.0 651.2 401.5 645.5C404.0 639.7 407.9 632.3 411.4 625.7C414.9 619.0 418.7 613.0 422.6 605.8C426.5 598.5 431.5 588.5 435.0 582.2C438.5 575.8 440.2 575.7 443.7 567.9C447.2 560.0 454.0 540.4 456.1 535.0 L455.5 485.8 Z" fill="url(#dA)"/>
<path d="M443.7 423.8 L443.7 423.8C442.2 426.2 438.5 431.8 435.0 438.1C431.5 444.4 426.5 454.4 422.6 461.7C418.7 468.9 414.9 475.0 411.4 481.6C407.9 488.2 404.0 495.6 401.5 501.4C399.0 507.2 397.3 513.8 396.5 516.3 L397.1 537.5 L400.2 559.8C402.1 556.3 406.0 547.8 411.4 538.7C416.8 529.6 425.4 516.3 432.5 505.2C439.6 494.1 450.7 477.7 454.3 472.2 L455.5 470.4C455.3 467.1 455.2 456.3 454.3 450.5C453.4 444.7 451.7 440.1 449.9 435.6C448.1 431.2 444.7 425.8 443.7 423.8 Z" fill="url(#dB)"/>
<path d="M454.3 472.2 L454.3 472.2C450.7 477.7 439.6 494.1 432.5 505.2C425.4 516.3 416.8 529.6 411.4 538.7C406.0 547.8 402.1 556.3 400.2 559.8 L400.9 563.8 L399.6 574.7C400.7 572.6 401.4 571.0 406.4 562.3C411.4 553.6 421.7 535.4 429.4 522.6C437.1 509.8 448.6 491.5 452.4 485.3 L455.1 475.8 Z" fill="url(#dC)"/>
<path d="M452.4 629.4 L452.4 629.4C448.6 635.6 437.1 653.8 429.4 666.6C421.7 679.5 411.4 697.7 406.4 706.4C401.4 715.0 400.7 716.7 399.6 718.8 L395.9 743.9 L393.7 767.9 L393.7 769.9 L426.3 784.9 L426.3 784.9C426.4 783.4 426.7 781.2 427.2 776.1C427.7 771.0 428.2 761.9 429.4 754.3C430.6 746.7 432.8 736.7 434.6 730.5C436.4 724.3 438.6 721.2 440.3 717.1C442.0 713.0 443.1 709.9 445.0 706.0C446.9 702.1 449.6 698.5 451.5 694.0C453.4 689.5 455.3 681.5 456.1 679.0 L455.5 629.9 Z" fill="url(#dA)"/>
<path d="M443.7 567.9 L443.7 567.9C442.2 570.2 438.5 575.8 435.0 582.1C431.5 588.5 426.5 598.5 422.6 605.8C418.7 613.0 414.9 619.0 411.4 625.6C407.9 632.3 404.0 639.7 401.5 645.5C399.0 651.2 397.3 657.9 396.5 660.4 L397.1 681.6 L400.2 703.9C402.1 700.3 406.0 691.9 411.4 682.8C416.8 673.6 425.4 660.3 432.5 649.2C439.6 638.2 450.7 621.8 454.3 616.2 L455.5 614.5C455.3 611.1 455.2 600.4 454.3 594.6C453.4 588.8 451.7 584.1 449.9 579.6C448.1 575.2 444.7 569.8 443.7 567.9 Z" fill="url(#dB)"/>
<path d="M454.3 616.2 L454.3 616.2C450.7 621.8 439.6 638.2 432.5 649.2C425.4 660.3 416.8 673.6 411.4 682.8C406.0 691.9 402.1 700.3 400.2 703.9 L400.9 707.9 L399.6 718.8C400.7 716.7 401.4 715.0 406.4 706.4C411.4 697.7 421.7 679.5 429.4 666.6C437.1 653.8 448.6 635.6 452.4 629.4 L455.1 619.9 Z" fill="url(#dC)"/>
</g>
<path d="M440.3 717.1 C444 722 450 727 459.4 729.5 L459.4 760.6 L427.2 776.1 C428 765 431 742 440.3 717.1 Z" fill="url(#dHead)" stroke="#1d1d1b" stroke-width="1.3" stroke-linejoin="round"/>
<path d="M427.2 776.1 L459.4 760.6 L459.4 766.2 L426.3 784.9 Z" fill="url(#dCh)" stroke="#1d1d1b" stroke-width="1.2" stroke-linejoin="round"/>
<path d="M396.8 750.2 C398 744 401 740.4 405.1 740.4 C412 741 420.1 752 425.3 769.9 L426.5 776.1 L426.3 784.9 L393.7 769.9 L393.7 758 Z" fill="url(#dArc)" stroke="#1d1d1b" stroke-width="1.2" stroke-linejoin="round"/>
<path d="M399.5 703 C396.5 720 394.5 745 393.9 768" fill="none" stroke="#1d1d1b" stroke-width="1.1"/>
<rect x="24.1" y="32.1" width="88.9" height="84.9" fill="#ed1820"/><text x="74.5" y="99.4" font-family="'Liberation Sans', sans-serif" font-weight="700" font-size="73" fill="#fff" text-anchor="middle" transform="translate(74.5 0) scale(0.93 1) translate(-74.5 0)">1.</text>
</g><rect x="0" y="0" width="856.0" height="856.0" fill="none" stroke="#4d4d4f" stroke-width="2.0"/></g>
<g transform="translate(541.5 1070.5)"><g clip-path="url(#cp2)">
<rect x="0" y="0" width="857.0" height="355.8" fill="url(#sky)"/>
<rect x="0" y="355.8" width="857.0" height="501.2" fill="#e5e5e6"/>
<g clip-path="url(#cp2a)"><g transform="scale(0.99837)"><use href="#stones" style="--gs:url(#gStone2)"/></g></g>
<g clip-path="url(#cp2b)"><g transform="translate(429.0 0) scale(0.99837)"><use href="#stones" style="--gs:url(#gStone2)"/></g></g>
<line x1="0" y1="355.8" x2="857.0" y2="355.8" stroke="#4d4d4f" stroke-width="1.4"/>
<path d="M182.6 355.8 L182.6 807.9 L217.5 826.5 L252.4 807.9 L252.4 355.8 Z" fill="url(#gHole2)" fill-opacity="0.88"/>
<g fill="#54504e"><circle cx="153.2" cy="280.9" r="1.5"/><circle cx="114.8" cy="250.8" r="1.5"/><circle cx="148.5" cy="287.0" r="1.5"/><circle cx="131.6" cy="252.0" r="1.5"/><circle cx="136.3" cy="224.4" r="1.5"/><circle cx="194.2" cy="335.1" r="1.5"/><circle cx="122.3" cy="265.5" r="1.5"/><circle cx="171.8" cy="315.5" r="1.5"/><circle cx="180.8" cy="310.1" r="1.5"/><circle cx="185.1" cy="333.3" r="1.5"/><circle cx="154.0" cy="299.3" r="1.5"/><circle cx="170.3" cy="310.6" r="1.5"/><circle cx="143.3" cy="279.5" r="1.5"/><circle cx="155.3" cy="273.5" r="1.5"/><circle cx="144.8" cy="244.0" r="1.5"/><circle cx="175.9" cy="292.8" r="1.5"/><circle cx="160.0" cy="282.2" r="1.5"/><circle cx="177.0" cy="329.9" r="1.5"/><circle cx="185.4" cy="319.4" r="1.5"/><circle cx="159.4" cy="247.9" r="1.5"/><circle cx="154.0" cy="285.6" r="1.5"/><circle cx="141.8" cy="267.3" r="1.5"/><circle cx="156.8" cy="303.9" r="1.5"/><circle cx="183.4" cy="327.0" r="1.5"/><circle cx="140.8" cy="230.7" r="1.5"/><circle cx="126.2" cy="257.6" r="1.5"/><circle cx="171.0" cy="281.6" r="1.5"/><circle cx="138.9" cy="284.1" r="1.5"/><circle cx="154.4" cy="249.2" r="1.5"/><circle cx="168.3" cy="293.5" r="1.5"/><circle cx="170.4" cy="288.8" r="1.5"/><circle cx="128.9" cy="264.8" r="1.5"/><circle cx="193.7" cy="324.9" r="1.5"/><circle cx="140.3" cy="249.7" r="1.5"/><circle cx="185.1" cy="312.3" r="1.5"/><circle cx="119.4" cy="244.0" r="1.5"/><circle cx="175.0" cy="300.8" r="1.5"/><circle cx="140.4" cy="260.0" r="1.5"/><circle cx="183.9" cy="301.3" r="1.5"/><circle cx="191.0" cy="338.7" r="1.5"/><circle cx="121.0" cy="226.7" r="1.5"/><circle cx="119.1" cy="256.8" r="1.5"/><circle cx="187.7" cy="349.6" r="1.5"/><circle cx="137.7" cy="254.1" r="1.5"/><circle cx="166.1" cy="306.5" r="1.5"/><circle cx="137.7" cy="264.8" r="1.5"/><circle cx="160.1" cy="300.3" r="1.5"/><circle cx="132.5" cy="231.1" r="1.5"/><circle cx="157.7" cy="293.1" r="1.5"/><circle cx="165.7" cy="276.6" r="1.5"/><circle cx="141.6" cy="239.8" r="1.5"/><circle cx="146.4" cy="295.6" r="1.5"/><circle cx="187.1" cy="342.8" r="1.5"/><circle cx="183.0" cy="340.0" r="1.5"/><circle cx="141.1" cy="289.6" r="1.5"/><circle cx="179.0" cy="304.6" r="1.5"/><circle cx="166.8" cy="314.1" r="1.5"/><circle cx="122.1" cy="260.6" r="1.5"/><circle cx="159.6" cy="262.7" r="1.5"/><circle cx="153.8" cy="268.7" r="1.5"/><circle cx="137.5" cy="274.3" r="1.5"/><circle cx="137.5" cy="244.0" r="1.5"/><circle cx="163.5" cy="291.7" r="1.5"/><circle cx="157.2" cy="241.6" r="1.5"/><circle cx="150.9" cy="227.5" r="1.5"/><circle cx="147.2" cy="268.5" r="1.5"/><circle cx="169.2" cy="301.5" r="1.5"/><circle cx="171.2" cy="329.2" r="1.5"/><circle cx="162.4" cy="256.2" r="1.5"/><circle cx="153.0" cy="234.8" r="1.5"/><circle cx="127.8" cy="228.9" r="1.5"/><circle cx="126.3" cy="252.2" r="1.5"/><circle cx="178.1" cy="334.8" r="1.5"/><circle cx="134.9" cy="237.1" r="1.5"/><circle cx="164.9" cy="319.9" r="1.5"/><circle cx="161.1" cy="267.7" r="1.5"/><circle cx="171.8" cy="320.9" r="1.5"/><circle cx="116.7" cy="233.6" r="1.5"/><circle cx="148.9" cy="238.5" r="1.5"/><circle cx="166.0" cy="263.0" r="1.5"/><circle cx="188.4" cy="327.4" r="1.5"/><circle cx="177.0" cy="314.4" r="1.5"/><circle cx="126.2" cy="241.1" r="1.5"/><circle cx="157.4" cy="256.6" r="1.5"/><circle cx="113.9" cy="244.3" r="1.5"/><circle cx="119.9" cy="238.6" r="1.5"/><circle cx="134.2" cy="258.4" r="1.5"/><circle cx="154.8" cy="264.1" r="1.5"/><circle cx="187.3" cy="308.0" r="1.5"/><circle cx="175.5" cy="309.7" r="1.5"/><circle cx="165.3" cy="284.8" r="1.5"/><circle cx="145.0" cy="272.9" r="1.5"/><circle cx="122.3" cy="248.2" r="1.5"/><circle cx="147.1" cy="257.5" r="1.5"/><circle cx="177.3" cy="324.0" r="1.5"/><circle cx="124.6" cy="235.8" r="1.5"/><circle cx="160.9" cy="309.2" r="1.5"/><circle cx="134.3" cy="247.5" r="1.5"/><circle cx="128.5" cy="245.5" r="1.5"/><circle cx="190.9" cy="331.5" r="1.5"/><circle cx="164.0" cy="272.3" r="1.5"/><circle cx="175.5" cy="288.1" r="1.5"/><circle cx="133.2" cy="277.4" r="1.5"/><circle cx="145.0" cy="283.8" r="1.5"/><circle cx="113.8" cy="238.4" r="1.5"/><circle cx="148.1" cy="231.3" r="1.5"/><circle cx="125.9" cy="269.5" r="1.5"/><circle cx="159.4" cy="314.0" r="1.5"/><circle cx="158.8" cy="287.2" r="1.5"/><circle cx="158.1" cy="278.0" r="1.5"/><circle cx="162.7" cy="251.3" r="1.5"/><circle cx="150.2" cy="292.6" r="1.5"/><circle cx="192.6" cy="346.0" r="1.5"/><circle cx="145.4" cy="235.4" r="1.5"/><circle cx="163.2" cy="296.5" r="1.5"/><circle cx="144.7" cy="226.9" r="1.5"/><circle cx="131.6" cy="225.3" r="1.5"/><circle cx="151.5" cy="244.7" r="1.5"/><circle cx="179.9" cy="296.3" r="1.5"/><circle cx="171.3" cy="275.8" r="1.5"/><circle cx="148.9" cy="299.4" r="1.5"/><circle cx="168.4" cy="324.5" r="1.5"/><circle cx="169.1" cy="270.5" r="1.5"/><circle cx="190.3" cy="321.1" r="1.5"/><circle cx="132.3" cy="268.3" r="1.5"/><circle cx="192.0" cy="352.5" r="1.5"/><circle cx="158.0" cy="237.1" r="1.5"/><circle cx="151.7" cy="258.8" r="1.5"/><circle cx="147.4" cy="249.8" r="1.5"/><circle cx="189.7" cy="314.8" r="1.5"/><circle cx="149.0" cy="262.9" r="1.5"/><circle cx="148.3" cy="279.7" r="1.5"/><circle cx="131.5" cy="240.4" r="1.5"/><circle cx="152.0" cy="303.7" r="1.5"/><circle cx="129.2" cy="234.6" r="1.5"/><circle cx="156.1" cy="308.6" r="1.5"/><circle cx="151.7" cy="276.5" r="1.5"/><circle cx="172.4" cy="296.5" r="1.5"/><circle cx="143.4" cy="253.9" r="1.5"/><circle cx="139.9" cy="235.3" r="1.5"/><circle cx="172.1" cy="305.7" r="1.5"/><circle cx="180.3" cy="317.6" r="1.5"/></g>
<g fill="#54504e"><circle cx="260.6" cy="263.6" r="1.5"/><circle cx="256.3" cy="301.0" r="1.5"/><circle cx="254.6" cy="244.8" r="1.5"/><circle cx="244.3" cy="274.3" r="1.5"/><circle cx="245.2" cy="258.6" r="1.5"/><circle cx="246.6" cy="264.9" r="1.5"/><circle cx="240.8" cy="336.7" r="1.5"/><circle cx="250.8" cy="295.2" r="1.5"/><circle cx="260.9" cy="247.7" r="1.5"/><circle cx="246.4" cy="291.4" r="1.5"/><circle cx="249.1" cy="329.1" r="1.5"/><circle cx="264.3" cy="285.9" r="1.5"/><circle cx="276.9" cy="258.5" r="1.5"/><circle cx="277.1" cy="263.7" r="1.5"/><circle cx="257.4" cy="234.4" r="1.5"/><circle cx="276.9" cy="248.9" r="1.5"/><circle cx="265.7" cy="232.3" r="1.5"/><circle cx="230.3" cy="334.6" r="1.5"/><circle cx="273.2" cy="255.6" r="1.5"/><circle cx="243.7" cy="314.8" r="1.5"/><circle cx="226.6" cy="309.2" r="1.5"/><circle cx="270.4" cy="244.6" r="1.5"/><circle cx="256.9" cy="318.0" r="1.5"/><circle cx="247.2" cy="253.2" r="1.5"/><circle cx="274.6" cy="240.9" r="1.5"/><circle cx="254.8" cy="274.2" r="1.5"/><circle cx="250.0" cy="243.0" r="1.5"/><circle cx="230.7" cy="280.7" r="1.5"/><circle cx="232.0" cy="299.0" r="1.5"/><circle cx="263.3" cy="257.1" r="1.5"/><circle cx="250.4" cy="283.1" r="1.5"/><circle cx="236.0" cy="305.3" r="1.5"/><circle cx="269.7" cy="270.8" r="1.5"/><circle cx="256.6" cy="261.2" r="1.5"/><circle cx="242.9" cy="285.8" r="1.5"/><circle cx="240.3" cy="342.1" r="1.5"/><circle cx="220.1" cy="319.5" r="1.5"/><circle cx="228.0" cy="296.6" r="1.5"/><circle cx="266.3" cy="274.4" r="1.5"/><circle cx="220.4" cy="331.4" r="1.5"/><circle cx="262.2" cy="228.1" r="1.5"/><circle cx="239.3" cy="282.2" r="1.5"/><circle cx="269.4" cy="258.6" r="1.5"/><circle cx="244.1" cy="310.0" r="1.5"/><circle cx="270.7" cy="237.0" r="1.5"/><circle cx="259.1" cy="241.1" r="1.5"/><circle cx="260.7" cy="310.3" r="1.5"/><circle cx="264.7" cy="300.9" r="1.5"/><circle cx="267.3" cy="250.0" r="1.5"/><circle cx="227.9" cy="325.7" r="1.5"/><circle cx="224.3" cy="301.7" r="1.5"/><circle cx="226.7" cy="318.9" r="1.5"/><circle cx="245.1" cy="334.0" r="1.5"/><circle cx="277.3" cy="234.6" r="1.5"/><circle cx="271.2" cy="263.1" r="1.5"/><circle cx="259.5" cy="274.2" r="1.5"/><circle cx="233.8" cy="344.9" r="1.5"/><circle cx="240.8" cy="270.6" r="1.5"/><circle cx="246.1" cy="245.8" r="1.5"/><circle cx="245.0" cy="305.1" r="1.5"/><circle cx="242.2" cy="328.1" r="1.5"/><circle cx="266.9" cy="279.6" r="1.5"/><circle cx="251.9" cy="254.6" r="1.5"/><circle cx="256.6" cy="267.1" r="1.5"/><circle cx="240.3" cy="321.1" r="1.5"/><circle cx="273.0" cy="278.8" r="1.5"/><circle cx="236.5" cy="329.9" r="1.5"/><circle cx="250.7" cy="230.7" r="1.5"/><circle cx="269.4" cy="226.1" r="1.5"/><circle cx="231.4" cy="285.3" r="1.5"/><circle cx="228.5" cy="340.0" r="1.5"/><circle cx="240.8" cy="303.0" r="1.5"/><circle cx="257.7" cy="251.3" r="1.5"/><circle cx="240.6" cy="262.2" r="1.5"/><circle cx="230.5" cy="313.0" r="1.5"/><circle cx="254.5" cy="305.8" r="1.5"/><circle cx="255.7" cy="229.7" r="1.5"/><circle cx="258.3" cy="293.1" r="1.5"/><circle cx="237.6" cy="292.4" r="1.5"/><circle cx="264.3" cy="267.9" r="1.5"/><circle cx="258.9" cy="287.0" r="1.5"/><circle cx="262.8" cy="290.6" r="1.5"/><circle cx="250.0" cy="237.6" r="1.5"/><circle cx="268.3" cy="297.7" r="1.5"/><circle cx="251.6" cy="302.1" r="1.5"/><circle cx="220.8" cy="308.9" r="1.5"/><circle cx="276.6" cy="230.0" r="1.5"/><circle cx="253.7" cy="310.9" r="1.5"/><circle cx="270.0" cy="290.9" r="1.5"/><circle cx="240.7" cy="277.7" r="1.5"/><circle cx="251.5" cy="264.3" r="1.5"/><circle cx="232.6" cy="294.4" r="1.5"/><circle cx="250.1" cy="317.3" r="1.5"/><circle cx="234.9" cy="323.8" r="1.5"/><circle cx="274.5" cy="272.1" r="1.5"/><circle cx="246.2" cy="278.8" r="1.5"/><circle cx="218.6" cy="326.1" r="1.5"/><circle cx="246.6" cy="323.3" r="1.5"/><circle cx="253.5" cy="289.9" r="1.5"/><circle cx="231.8" cy="308.2" r="1.5"/><circle cx="251.1" cy="247.9" r="1.5"/><circle cx="254.7" cy="279.1" r="1.5"/><circle cx="251.8" cy="325.3" r="1.5"/><circle cx="237.0" cy="297.9" r="1.5"/><circle cx="231.5" cy="328.7" r="1.5"/><circle cx="235.7" cy="337.2" r="1.5"/><circle cx="260.9" cy="305.2" r="1.5"/><circle cx="242.6" cy="295.1" r="1.5"/><circle cx="265.5" cy="261.8" r="1.5"/><circle cx="218.7" cy="313.1" r="1.5"/><circle cx="225.8" cy="314.3" r="1.5"/><circle cx="236.9" cy="267.9" r="1.5"/><circle cx="235.3" cy="317.6" r="1.5"/><circle cx="238.8" cy="309.6" r="1.5"/><circle cx="234.6" cy="273.1" r="1.5"/><circle cx="269.5" cy="284.2" r="1.5"/><circle cx="228.9" cy="303.6" r="1.5"/><circle cx="279.9" cy="253.5" r="1.5"/><circle cx="249.9" cy="272.8" r="1.5"/><circle cx="254.5" cy="240.1" r="1.5"/><circle cx="263.4" cy="238.7" r="1.5"/><circle cx="282.3" cy="259.7" r="1.5"/><circle cx="245.9" cy="299.6" r="1.5"/><circle cx="279.0" cy="269.2" r="1.5"/><circle cx="261.3" cy="280.1" r="1.5"/><circle cx="248.9" cy="311.6" r="1.5"/><circle cx="215.8" cy="330.0" r="1.5"/><circle cx="244.4" cy="237.8" r="1.5"/><circle cx="242.3" cy="250.6" r="1.5"/><circle cx="271.5" cy="232.4" r="1.5"/><circle cx="265.3" cy="243.1" r="1.5"/><circle cx="224.4" cy="336.0" r="1.5"/><circle cx="258.3" cy="256.1" r="1.5"/><circle cx="233.1" cy="289.7" r="1.5"/><circle cx="226.8" cy="330.7" r="1.5"/><circle cx="234.6" cy="278.1" r="1.5"/><circle cx="240.4" cy="256.4" r="1.5"/><circle cx="238.0" cy="287.4" r="1.5"/><circle cx="223.3" cy="325.4" r="1.5"/><circle cx="230.6" cy="321.6" r="1.5"/><circle cx="260.9" cy="298.0" r="1.5"/></g>
<g transform="translate(48.6 94.5) rotate(18.5)">
<rect x="-70" y="-4.3" width="72" height="8.6" fill="url(#gRod)" stroke="#58585a" stroke-width="1"/>
<rect x="-2" y="-32.7" width="6" height="65.4" fill="#1d1d1b"/>
<rect x="0" y="-32.7" width="268" height="65.4" fill="url(#gCyl)"/>
<rect x="268" y="-32.7" width="19" height="65.4" fill="url(#gCapB)"/>
<rect x="270" y="30" width="13" height="14" fill="#1d1d1b"/>
</g>
<path d="M293.4 221.5C292.1 223.6 289.8 228.6 286.1 234.0C282.5 239.5 277.2 246.9 271.4 254.1C265.7 261.3 258.3 269.5 251.6 277.4C244.9 285.3 236.9 293.8 231.3 301.2C225.8 308.7 221.8 314.9 218.2 322.0C214.6 329.0 212.0 336.4 209.7 343.5C207.5 350.6 206.2 356.6 204.5 364.6C202.9 372.5 201.1 381.9 200.0 391.1C198.8 400.3 198.0 409.8 197.4 419.6C196.8 429.4 196.5 439.0 196.4 449.9C196.3 460.9 196.3 473.5 196.7 485.3C197.1 497.0 198.0 510.2 198.9 520.7C199.9 531.1 201.3 537.8 202.4 547.8C203.6 557.8 204.9 569.0 205.9 580.6C207.0 592.2 208.2 611.4 208.6 617.5 L222.8 616.5C222.3 610.3 221.1 591.1 220.1 579.4C219.0 567.7 217.7 556.2 216.6 546.2C215.4 536.2 214.0 529.6 213.1 519.3C212.1 509.1 211.3 496.3 210.9 484.7C210.5 473.2 210.5 460.8 210.6 450.1C210.7 439.4 211.0 430.0 211.6 420.4C212.2 410.9 212.9 401.7 214.0 392.9C215.2 384.1 216.9 374.9 218.5 367.4C220.0 359.9 221.2 354.4 223.3 347.9C225.3 341.4 227.6 334.8 230.8 328.4C234.1 322.1 237.4 316.7 242.7 309.8C247.9 302.8 255.8 294.4 262.4 286.6C269.1 278.8 276.6 270.4 282.6 262.9C288.5 255.5 294.0 247.7 297.9 242.0C301.7 236.2 304.4 230.8 305.6 228.5 Z" fill="#fff" stroke="#3c3c3e" stroke-width="1.2" stroke-linejoin="round"/>
<rect x="211.2" y="638.6" width="13.7" height="9.3" fill="#fff"/>
<path d="M213.5 639.4C213.5 645.8 213.6 666.5 213.2 678.2C212.9 689.8 212.4 698.9 211.4 709.3C210.3 719.6 208.6 732.7 207.0 740.3C205.4 747.9 203.3 752.3 201.6 755.1C199.8 757.8 198.0 757.8 196.5 756.6C194.9 755.4 193.3 753.6 192.3 748.1C191.2 742.5 190.6 727.4 190.2 723.2" fill="none" stroke="#fff" stroke-width="4.4" stroke-linecap="butt"/>
<path d="M189.9 710.0 L183.4 725.2 L197.2 724.3 Z" fill="#fff"/>
<path d="M221.3 639.4C221.3 645.8 221.2 666.5 221.6 678.2C222.0 689.8 222.4 698.9 223.5 709.3C224.5 719.6 226.2 732.7 227.8 740.3C229.4 747.9 231.5 752.3 233.3 755.1C235.0 757.8 236.8 757.8 238.4 756.6C239.9 755.4 241.5 753.6 242.6 748.1C243.6 742.5 244.3 727.4 244.6 723.2" fill="none" stroke="#fff" stroke-width="4.4" stroke-linecap="butt"/>
<path d="M244.9 710.0 L251.4 725.2 L237.6 724.3 Z" fill="#fff"/>
<path d="M217.4 639.4C217.4 662.7 217.7 753.2 217.3 779.1C216.8 805.0 216.1 790.9 214.5 794.7C212.8 798.4 209.8 800.8 207.3 801.6C204.8 802.5 201.7 801.6 199.6 799.6C197.4 797.7 195.7 793.8 194.6 790.0C193.5 786.2 193.2 779.0 192.9 776.8" fill="none" stroke="#fff" stroke-width="4.4" stroke-linecap="butt"/>
<path d="M193.0 765.9 L186.5 779.4 L199.6 777.9 Z" fill="#fff"/>
<path d="M217.4 639.4C217.4 662.7 217.1 753.2 217.6 779.1C218.1 805.0 218.7 790.9 220.4 794.7C222.0 798.4 225.0 800.8 227.5 801.6C230.0 802.5 233.1 801.6 235.3 799.6C237.4 797.7 239.1 793.8 240.2 790.0C241.4 786.2 241.7 779.0 241.9 776.8" fill="none" stroke="#fff" stroke-width="4.4" stroke-linecap="butt"/>
<path d="M241.8 765.9 L248.3 779.4 L235.3 777.9 Z" fill="#fff"/>
<path d="M606.7 355.8 L606.7 807.9 L641.6 826.5 L676.5 807.9 L676.5 355.8 Z" fill="url(#gHole2)" fill-opacity="0.85"/>
<g fill="#54504e"><circle cx="695.9" cy="313.9" r="1.5"/><circle cx="704.8" cy="320.6" r="1.5"/><circle cx="722.1" cy="260.2" r="1.5"/><circle cx="680.7" cy="346.7" r="1.5"/><circle cx="697.4" cy="279.1" r="1.5"/><circle cx="723.0" cy="269.8" r="1.5"/><circle cx="739.3" cy="263.8" r="1.5"/><circle cx="722.2" cy="286.6" r="1.5"/><circle cx="714.1" cy="296.1" r="1.5"/><circle cx="728.1" cy="276.5" r="1.5"/><circle cx="685.8" cy="342.6" r="1.5"/><circle cx="707.6" cy="269.8" r="1.5"/><circle cx="699.7" cy="339.0" r="1.5"/><circle cx="728.4" cy="290.0" r="1.5"/><circle cx="693.2" cy="298.6" r="1.5"/><circle cx="711.0" cy="311.2" r="1.5"/><circle cx="722.2" cy="305.1" r="1.5"/><circle cx="696.8" cy="304.0" r="1.5"/><circle cx="704.4" cy="287.9" r="1.5"/><circle cx="700.1" cy="295.1" r="1.5"/><circle cx="732.1" cy="255.9" r="1.5"/><circle cx="734.2" cy="279.6" r="1.5"/><circle cx="727.0" cy="264.3" r="1.5"/><circle cx="737.7" cy="271.9" r="1.5"/><circle cx="702.6" cy="325.7" r="1.5"/><circle cx="715.6" cy="274.3" r="1.5"/><circle cx="734.3" cy="291.6" r="1.5"/><circle cx="703.2" cy="299.6" r="1.5"/><circle cx="708.2" cy="298.8" r="1.5"/><circle cx="742.1" cy="270.4" r="1.5"/><circle cx="680.1" cy="358.6" r="1.5"/><circle cx="742.5" cy="277.8" r="1.5"/><circle cx="680.7" cy="336.4" r="1.5"/><circle cx="721.2" cy="291.1" r="1.5"/><circle cx="703.6" cy="275.0" r="1.5"/><circle cx="691.4" cy="341.6" r="1.5"/><circle cx="708.4" cy="305.9" r="1.5"/><circle cx="688.2" cy="315.1" r="1.5"/><circle cx="728.2" cy="295.5" r="1.5"/><circle cx="708.3" cy="330.7" r="1.5"/><circle cx="711.0" cy="280.4" r="1.5"/><circle cx="688.0" cy="347.4" r="1.5"/><circle cx="696.7" cy="321.9" r="1.5"/><circle cx="730.4" cy="270.9" r="1.5"/><circle cx="712.5" cy="324.9" r="1.5"/><circle cx="686.3" cy="336.7" r="1.5"/><circle cx="693.3" cy="318.5" r="1.5"/><circle cx="699.8" cy="331.9" r="1.5"/><circle cx="719.4" cy="282.8" r="1.5"/><circle cx="712.3" cy="320.0" r="1.5"/><circle cx="692.5" cy="331.8" r="1.5"/><circle cx="716.6" cy="266.2" r="1.5"/><circle cx="687.4" cy="352.3" r="1.5"/><circle cx="715.5" cy="316.6" r="1.5"/><circle cx="715.2" cy="304.5" r="1.5"/><circle cx="690.7" cy="308.6" r="1.5"/><circle cx="704.9" cy="312.2" r="1.5"/><circle cx="720.2" cy="278.0" r="1.5"/><circle cx="710.9" cy="274.8" r="1.5"/><circle cx="727.4" cy="258.6" r="1.5"/><circle cx="729.0" cy="283.7" r="1.5"/><circle cx="683.5" cy="326.2" r="1.5"/><circle cx="712.8" cy="270.1" r="1.5"/><circle cx="695.9" cy="347.4" r="1.5"/><circle cx="690.2" cy="325.1" r="1.5"/><circle cx="710.0" cy="265.3" r="1.5"/><circle cx="703.2" cy="307.2" r="1.5"/><circle cx="729.6" cy="300.3" r="1.5"/><circle cx="709.1" cy="290.8" r="1.5"/><circle cx="696.5" cy="342.8" r="1.5"/><circle cx="701.2" cy="283.2" r="1.5"/><circle cx="716.8" cy="258.2" r="1.5"/><circle cx="731.6" cy="263.3" r="1.5"/><circle cx="736.2" cy="259.3" r="1.5"/><circle cx="702.8" cy="265.3" r="1.5"/><circle cx="709.7" cy="259.2" r="1.5"/><circle cx="698.5" cy="288.1" r="1.5"/><circle cx="718.5" cy="310.1" r="1.5"/><circle cx="686.5" cy="331.7" r="1.5"/><circle cx="694.1" cy="337.8" r="1.5"/><circle cx="732.9" cy="296.7" r="1.5"/><circle cx="714.9" cy="289.6" r="1.5"/><circle cx="741.0" cy="282.6" r="1.5"/><circle cx="705.2" cy="293.4" r="1.5"/><circle cx="736.0" cy="284.3" r="1.5"/><circle cx="720.0" cy="298.2" r="1.5"/><circle cx="747.3" cy="268.8" r="1.5"/><circle cx="714.8" cy="284.9" r="1.5"/><circle cx="685.8" cy="356.9" r="1.5"/><circle cx="705.8" cy="281.1" r="1.5"/><circle cx="709.5" cy="315.9" r="1.5"/><circle cx="724.3" cy="281.5" r="1.5"/><circle cx="734.4" cy="267.1" r="1.5"/><circle cx="698.6" cy="274.2" r="1.5"/><circle cx="697.7" cy="309.1" r="1.5"/><circle cx="700.4" cy="269.7" r="1.5"/><circle cx="682.6" cy="353.4" r="1.5"/><circle cx="701.2" cy="315.7" r="1.5"/><circle cx="723.5" cy="274.4" r="1.5"/><circle cx="695.0" cy="326.9" r="1.5"/><circle cx="724.8" cy="254.1" r="1.5"/><circle cx="723.4" cy="310.2" r="1.5"/><circle cx="692.8" cy="351.0" r="1.5"/><circle cx="704.4" cy="335.0" r="1.5"/><circle cx="695.3" cy="294.4" r="1.5"/><circle cx="686.9" cy="320.5" r="1.5"/><circle cx="709.4" cy="285.1" r="1.5"/><circle cx="724.8" cy="300.8" r="1.5"/><circle cx="733.6" cy="274.4" r="1.5"/><circle cx="722.2" cy="264.9" r="1.5"/><circle cx="738.6" cy="289.4" r="1.5"/><circle cx="691.9" cy="303.5" r="1.5"/><circle cx="707.9" cy="325.7" r="1.5"/></g>
<path d="M599.4 286.3 L638.7 300.0 M682.2 290.3 L646.7 299.5 M599.4 301.8 L638.7 288.8 M682.2 303.8 L646.7 291.8 M599.4 296.3 L638.7 310.0 M682.2 300.3 L646.7 309.5 M599.4 311.8 L638.7 298.8 M682.2 313.8 L646.7 301.8 M599.4 306.3 L638.7 320.0 M682.2 310.3 L646.7 319.5 M599.4 321.8 L638.7 308.8 M682.2 323.8 L646.7 311.8 M599.4 316.3 L638.7 330.0 M682.2 320.3 L646.7 329.5 M599.4 331.8 L638.7 318.8 M682.2 333.8 L646.7 321.8 M599.4 326.3 L638.7 340.0 M682.2 330.3 L646.7 339.5 M599.4 341.8 L638.7 328.8 M682.2 343.8 L646.7 331.8 M599.4 336.3 L638.7 350.0 M682.2 340.3 L646.7 349.5 M599.4 351.8 L638.7 338.8 M682.2 353.8 L646.7 341.8 M599.4 346.3 L638.7 360.0 M682.2 350.3 L646.7 359.5 M599.4 361.8 L638.7 348.8 M682.2 363.8 L646.7 351.8 M599.4 356.3 L638.7 370.0 M682.2 360.3 L646.7 369.5 M599.4 371.8 L638.7 358.8 M682.2 373.8 L646.7 361.8 M599.4 366.3 L638.7 380.0 M682.2 370.3 L646.7 379.5 M599.4 381.8 L638.7 368.8 M682.2 383.8 L646.7 371.8 M599.4 376.3 L638.7 390.0 M682.2 380.3 L646.7 389.5 M599.4 391.8 L638.7 378.8 M682.2 393.8 L646.7 381.8 M599.4 386.3 L638.7 400.0 M682.2 390.3 L646.7 399.5 M599.4 401.8 L638.7 388.8 M682.2 403.8 L646.7 391.8 M599.4 396.3 L638.7 410.0 M682.2 400.3 L646.7 409.5 M599.4 411.8 L638.7 398.8 M682.2 413.8 L646.7 401.8 M599.4 406.3 L638.7 420.0 M682.2 410.3 L646.7 419.5 M599.4 421.8 L638.7 408.8 M682.2 423.8 L646.7 411.8 M599.4 416.3 L638.7 430.0 M682.2 420.3 L646.7 429.5 M599.4 431.8 L638.7 418.8 M682.2 433.8 L646.7 421.8 M599.4 426.3 L638.7 440.0 M682.2 430.3 L646.7 439.5 M599.4 441.8 L638.7 428.8 M682.2 443.8 L646.7 431.8 M599.4 436.3 L638.7 450.0 M682.2 440.3 L646.7 449.5 M599.4 451.8 L638.7 438.8 M682.2 453.8 L646.7 441.8 M599.4 446.3 L638.7 460.0 M682.2 450.3 L646.7 459.5 M599.4 461.8 L638.7 448.8 M682.2 463.8 L646.7 451.8 M599.4 456.3 L638.7 470.0 M682.2 460.3 L646.7 469.5 M599.4 471.8 L638.7 458.8 M682.2 473.8 L646.7 461.8 M599.4 466.3 L638.7 480.0 M682.2 470.3 L646.7 479.5 M599.4 481.8 L638.7 468.8 M682.2 483.8 L646.7 471.8 M599.4 476.3 L638.7 490.0 M682.2 480.3 L646.7 489.5 M599.4 491.8 L638.7 478.8 M682.2 493.8 L646.7 481.8 M599.4 486.3 L638.7 500.0 M682.2 490.3 L646.7 499.5 M599.4 501.8 L638.7 488.8 M682.2 503.8 L646.7 491.8 M599.4 496.3 L638.7 510.0 M682.2 500.3 L646.7 509.5 M599.4 511.8 L638.7 498.8 M682.2 513.8 L646.7 501.8 M599.4 506.3 L638.7 520.0 M682.2 510.3 L646.7 519.5 M599.4 521.8 L638.7 508.8 M682.2 523.8 L646.7 511.8 M599.4 516.3 L638.7 530.0 M682.2 520.3 L646.7 529.5 M599.4 531.8 L638.7 518.8 M682.2 533.8 L646.7 521.8 M599.4 526.3 L638.7 540.0 M682.2 530.3 L646.7 539.5 M599.4 541.8 L638.7 528.8 M682.2 543.8 L646.7 531.8 M599.4 536.3 L638.7 550.0 M682.2 540.3 L646.7 549.5 M599.4 551.8 L638.7 538.8 M682.2 553.8 L646.7 541.8 M599.4 546.3 L638.7 560.0 M682.2 550.3 L646.7 559.5 M599.4 561.8 L638.7 548.8 M682.2 563.8 L646.7 551.8 M599.4 556.3 L638.7 570.0 M682.2 560.3 L646.7 569.5 M599.4 571.8 L638.7 558.8 M682.2 573.8 L646.7 561.8 M599.4 566.3 L638.7 580.0 M682.2 570.3 L646.7 579.5 M599.4 581.8 L638.7 568.8 M682.2 583.8 L646.7 571.8 M599.4 576.3 L638.7 590.0 M682.2 580.3 L646.7 589.5 M599.4 591.8 L638.7 578.8 M682.2 593.8 L646.7 581.8 M599.4 586.3 L638.7 600.0 M682.2 590.3 L646.7 599.5 M599.4 601.8 L638.7 588.8 M682.2 603.8 L646.7 591.8 M599.4 596.3 L638.7 610.0 M682.2 600.3 L646.7 609.5 M599.4 611.8 L638.7 598.8 M682.2 613.8 L646.7 601.8 M599.4 606.3 L638.7 620.0 M682.2 610.3 L646.7 619.5 M599.4 621.8 L638.7 608.8 M682.2 623.8 L646.7 611.8 M599.4 616.3 L638.7 630.0 M682.2 620.3 L646.7 629.5 M599.4 631.8 L638.7 618.8 M682.2 633.8 L646.7 621.8 M599.4 626.3 L638.7 640.0 M682.2 630.3 L646.7 639.5 M599.4 641.8 L638.7 628.8 M682.2 643.8 L646.7 631.8 M599.4 636.3 L638.7 650.0 M682.2 640.3 L646.7 649.5 M599.4 651.8 L638.7 638.8 M682.2 653.8 L646.7 641.8 M599.4 646.3 L638.7 660.0 M682.2 650.3 L646.7 659.5 M599.4 661.8 L638.7 648.8 M682.2 663.8 L646.7 651.8 M599.4 656.3 L638.7 670.0 M682.2 660.3 L646.7 669.5 M599.4 671.8 L638.7 658.8 M682.2 673.8 L646.7 661.8 M599.4 666.3 L638.7 680.0 M682.2 670.3 L646.7 679.5 M599.4 681.8 L638.7 668.8 M682.2 683.8 L646.7 671.8 M599.4 676.3 L638.7 690.0 M682.2 680.3 L646.7 689.5 M599.4 691.8 L638.7 678.8 M682.2 693.8 L646.7 681.8 M599.4 686.3 L638.7 700.0 M682.2 690.3 L646.7 699.5 M599.4 701.8 L638.7 688.8 M682.2 703.8 L646.7 691.8 M599.4 696.3 L638.7 710.0 M682.2 700.3 L646.7 709.5 M599.4 711.8 L638.7 698.8 M682.2 713.8 L646.7 701.8 M599.4 706.3 L638.7 720.0 M682.2 710.3 L646.7 719.5 M599.4 721.8 L638.7 708.8 M682.2 723.8 L646.7 711.8 M599.4 716.3 L638.7 730.0 M682.2 720.3 L646.7 729.5 M599.4 731.8 L638.7 718.8 M682.2 733.8 L646.7 721.8 M599.4 726.3 L638.7 740.0 M682.2 730.3 L646.7 739.5 M599.4 741.8 L638.7 728.8 M682.2 743.8 L646.7 731.8 M599.4 736.3 L638.7 750.0 M682.2 740.3 L646.7 749.5 M599.4 751.8 L638.7 738.8 M682.2 753.8 L646.7 741.8 M599.4 746.3 L638.7 760.0 M682.2 750.3 L646.7 759.5 M599.4 761.8 L638.7 748.8 M682.2 763.8 L646.7 751.8 M599.4 756.3 L638.7 770.0 M682.2 760.3 L646.7 769.5 M599.4 771.8 L638.7 758.8 M682.2 773.8 L646.7 761.8 M599.4 766.3 L638.7 780.0 M682.2 770.3 L646.7 779.5 M599.4 781.8 L638.7 768.8 M682.2 783.8 L646.7 771.8 M599.4 776.3 L638.7 790.0 M682.2 780.3 L646.7 789.5 M599.4 791.8 L638.7 778.8 M682.2 793.8 L646.7 781.8" stroke="#1d1d1b" stroke-width="3.4" stroke-linecap="round" fill="none"/>
<rect x="637.0" y="28.7" width="11.4" height="759.6" fill="url(#gBrushRod)" stroke="#58585a" stroke-width="1"/>
<line x1="429.0" y1="0" x2="429.0" y2="857.0" stroke="#6a6a6c" stroke-width="1"/>
<rect x="25.5" y="37.4" width="88.7" height="84.8" fill="#ed1820"/><text x="79.0" y="104.7" font-family="'Liberation Sans', sans-serif" font-weight="700" font-size="73" fill="#fff" text-anchor="middle" transform="translate(79.0 0) scale(0.93 1) translate(-79.0 0)">2.</text>
</g><rect x="0" y="0" width="857.0" height="857.0" fill="none" stroke="#4d4d4f" stroke-width="1.3"/></g>
<g transform="translate(541.7 2037.4)"><g clip-path="url(#cp3)">
<g transform="scale(0.99755)">
<rect x="0" y="0" width="861.3" height="356.4" fill="url(#sky)"/>
<rect x="0" y="356.4" width="861.3" height="505.2" fill="#e2e3e5"/><g transform="scale(1.00000)"><use href="#stones"/></g>
<line x1="0" y1="356.4" x2="861.3" y2="356.4" stroke="#3a3a3c" stroke-width="1.5"/>
<path d="M394.8 356.4 L394.8 822.0 Q409.7 835.4 427.8 838.4 Q445.9 835.4 460.8 822.0 L460.8 356.4 Z" fill="url(#gHole)" fill-opacity="0.90"/>
<path d="M-5 -5 L142.5 -5 L142.5 -3.0C142.7 3.3 142.6 21.1 143.4 35.0C144.2 48.9 145.7 66.9 147.5 80.6C149.3 94.3 151.7 106.0 154.4 117.0C157.1 128.0 159.7 137.1 163.5 146.6C167.3 156.1 171.8 166.0 177.1 174.0C182.4 182.0 188.6 188.4 195.4 194.5C202.2 200.6 209.8 205.8 218.1 210.4C226.4 215.0 236.0 218.8 245.5 221.8C255.0 224.8 265.2 226.7 275.1 228.6C285.0 230.5 295.6 232.1 304.7 233.2C313.8 234.3 317.1 234.8 330.0 235.2C342.9 235.6 373.5 235.4 382.2 235.5 L473.4 235.5C482.0 235.5 511.1 235.1 525.0 235.5C538.9 235.9 547.1 236.0 557.0 237.7C566.9 239.4 575.7 242.3 584.4 245.7C593.1 249.1 601.8 253.1 609.4 258.2C617.0 263.3 624.2 270.0 629.9 276.5C635.6 283.0 640.2 289.8 643.6 297.0C647.0 304.2 648.8 313.2 650.0 319.7C651.2 326.1 650.8 329.6 650.9 335.7C651.0 341.8 650.9 352.9 650.9 356.4 L-5 356.4 Z" fill="url(#fixg)" stroke="none"/><path d="M142.5 -3.0C142.7 3.3 142.6 21.1 143.4 35.0C144.2 48.9 145.7 66.9 147.5 80.6C149.3 94.3 151.7 106.0 154.4 117.0C157.1 128.0 159.7 137.1 163.5 146.6C167.3 156.1 171.8 166.0 177.1 174.0C182.4 182.0 188.6 188.4 195.4 194.5C202.2 200.6 209.8 205.8 218.1 210.4C226.4 215.0 236.0 218.8 245.5 221.8C255.0 224.8 265.2 226.7 275.1 228.6C285.0 230.5 295.6 232.1 304.7 233.2C313.8 234.3 317.1 234.8 330.0 235.2C342.9 235.6 373.5 235.4 382.2 235.5" fill="none" stroke="#58585a" stroke-width="1.2"/><path d="M473.4 235.5C482.0 235.5 511.1 235.1 525.0 235.5C538.9 235.9 547.1 236.0 557.0 237.7C566.9 239.4 575.7 242.3 584.4 245.7C593.1 249.1 601.8 253.1 609.4 258.2C617.0 263.3 624.2 270.0 629.9 276.5C635.6 283.0 640.2 289.8 643.6 297.0C647.0 304.2 648.8 313.2 650.0 319.7C651.2 326.1 650.8 329.6 650.9 335.7C651.0 341.8 650.9 352.9 650.9 356.4" fill="none" stroke="#58585a" stroke-width="1.2"/><rect x="382.2" y="235.5" width="91.2" height="120.9" fill="#9b9c9e"/>
<path d="M410.9 646.2 L444.7 646.2 L444.7 725.9 Q440.8 737.2 427.8 746.8 Q414.8 737.2 410.9 725.9 L410.9 646.2 Z" fill="url(#gScrew)" stroke="#1d1d1b" stroke-width="1.3"/>
<path d="M444.7 647.2 C451.8 646.2 451.8 655.2 441.8 658.2 C427.8 662.2 417.8 663.2 410.8 667.2 C402.8 668.2 402.8 660.2 412.8 659.2 C422.8 658.2 435.8 655.2 444.7 647.2 Z" fill="#f4f4f4" stroke="#1d1d1b" stroke-width="1.2"/>
<path d="M444.7 668.4 C451.8 667.4 451.8 676.4 441.8 679.4 C427.8 683.4 417.8 684.4 410.8 688.4 C402.8 689.4 402.8 681.4 412.8 680.4 C422.8 679.4 435.8 676.4 444.7 668.4 Z" fill="#f4f4f4" stroke="#1d1d1b" stroke-width="1.2"/>
<path d="M444.7 689.6 C451.8 688.6 451.8 697.6 441.8 700.6 C427.8 704.6 417.8 705.6 410.8 709.6 C402.8 710.6 402.8 702.6 412.8 701.6 C422.8 700.6 435.8 697.6 444.7 689.6 Z" fill="#f4f4f4" stroke="#1d1d1b" stroke-width="1.2"/>
<path d="M444.7 710.8 C451.8 709.8 451.8 718.8 441.8 721.8 C427.8 725.8 417.8 726.8 410.8 730.8 C402.8 731.8 402.8 723.8 412.8 722.8 C422.8 721.8 435.8 718.8 444.7 710.8 Z" fill="#f4f4f4" stroke="#1d1d1b" stroke-width="1.2"/>
<path d="M395.8 604.0 L459.8 604.0 L459.8 635.0 L454.6 646.7 L401.0 646.7 L395.8 635.0 Z" fill="url(#gNut)" stroke="#1d1d1b" stroke-width="1.8"/>
<line x1="395.8" y1="635.0" x2="459.8" y2="635.0" stroke="#1d1d1b" stroke-width="1.5"/>
<rect x="399.5" y="593.2" width="56.6" height="10.5" fill="url(#gNeckR)" stroke="#1d1d1b" stroke-width="1.4"/>
<path d="M379.5 410.2 L476.1 410.2 L476.1 517.2 L462.3 562.2 L460.6 570.2 L395.0 570.2 L393.3 562.2 L379.5 517.2 Z" fill="#e2001a" stroke="#1d1d1b" stroke-width="1.8"/>
<path d="M383.6 274.2 L472.0 274.2 L461.2 372.2 L394.4 372.2 Z" fill="#e2001a" stroke="#1d1d1b" stroke-width="1.8"/>
<path d="M394.8 274.2 L413.8 274.2 L426.6 371.7 L395.8 372.2 Z" fill="url(#gShaftL)" stroke="#1d1d1b" stroke-width="1.3"/>
<path d="M441.8 274.2 L460.8 274.2 L459.8 372.2 L429.0 371.7 Z" fill="url(#gShaftR)" stroke="#1d1d1b" stroke-width="1.3"/>
<line x1="427.8" y1="274.2" x2="427.8" y2="366.2" stroke="#1d1d1b" stroke-width="1.3"/>
<rect x="395.2" y="383.2" width="27.6" height="209.0" fill="url(#gShaftL)" stroke="#1d1d1b" stroke-width="1.8"/>
<rect x="432.8" y="383.2" width="27.6" height="209.0" fill="url(#gShaftR)" stroke="#1d1d1b" stroke-width="1.8"/>
<path d="M422.8 372.1 L390.5 372.1 L395.2 383.8 L422.8 383.8 Z" fill="url(#gShaftL)" stroke="#1d1d1b" stroke-width="1.5"/>
<path d="M432.8 372.1 L465.1 372.1 L460.4 383.8 L432.8 383.8 Z" fill="url(#gShaftR)" stroke="#1d1d1b" stroke-width="1.5"/>
<path d="M422.8 411.0 L389.6 411.0 L395.2 421.8 L422.8 421.8 Z" fill="url(#gShaftL)" stroke="#1d1d1b" stroke-width="1.5"/>
<path d="M432.8 411.0 L466.0 411.0 L460.4 421.8 L432.8 421.8 Z" fill="url(#gShaftR)" stroke="#1d1d1b" stroke-width="1.5"/>
<path d="M422.8 447.9 L389.6 447.9 L395.2 458.3 L422.8 458.3 Z" fill="url(#gShaftL)" stroke="#1d1d1b" stroke-width="1.5"/>
<path d="M432.8 447.9 L466.0 447.9 L460.4 458.3 L432.8 458.3 Z" fill="url(#gShaftR)" stroke="#1d1d1b" stroke-width="1.5"/>
<path d="M422.8 484.7 L389.6 484.7 L395.2 494.8 L422.8 494.8 Z" fill="url(#gShaftL)" stroke="#1d1d1b" stroke-width="1.5"/>
<path d="M432.8 484.7 L466.0 484.7 L460.4 494.8 L432.8 494.8 Z" fill="url(#gShaftR)" stroke="#1d1d1b" stroke-width="1.5"/>
<path d="M422.8 522.0 L389.6 522.0 L395.2 532.4 L422.8 532.4 Z" fill="url(#gShaftL)" stroke="#1d1d1b" stroke-width="1.5"/>
<path d="M432.8 522.0 L466.0 522.0 L460.4 532.4 L432.8 532.4 Z" fill="url(#gShaftR)" stroke="#1d1d1b" stroke-width="1.5"/>
<line x1="395.2" y1="558.5" x2="460.4" y2="558.5" stroke="#1d1d1b" stroke-width="1.5"/>
<line x1="395.2" y1="569.7" x2="460.4" y2="569.7" stroke="#1d1d1b" stroke-width="1.5"/>
<rect x="423.2" y="367.5" width="9.2" height="224.6" fill="#e2001a" stroke="#1d1d1b" stroke-width="1.6"/>
<path d="M385.3 82.7 L470.3 82.7 L476.3 88.7 L476.3 121.3 L470.3 127.3 L385.3 127.3 L379.3 121.3 L379.3 88.7 Z" fill="#d5d6d8" stroke="#1d1d1b" stroke-width="1.6"/>
<rect x="403.3" y="82.7" width="49.0" height="44.6" fill="url(#gHexC)" stroke="#1d1d1b" stroke-width="1.4"/>
<rect x="386.2" y="153.4" width="83.2" height="104.8" fill="url(#gSleeve)" stroke="#1d1d1b" stroke-width="1.6"/>
<rect x="410.6" y="259.2" width="34.4" height="15.0" fill="url(#gNeck)" stroke="#1d1d1b" stroke-width="1.2"/>
<rect x="324.4" y="127.3" width="206.8" height="26.1" fill="url(#gWasher)" stroke="#1d1d1b" stroke-width="1.6"/>
<path d="M335.3 44.9 L351.3 44.9 L351.3 81.6 L362.5 81.6 L343.3 107.4 L324.1 81.6 L335.3 81.6 Z" fill="#e2001a" stroke="#1d1d1b" stroke-width="1.3"/>
<path d="M508.5 44.9 L524.5 44.9 L524.5 81.6 L535.7 81.6 L516.5 107.4 L497.3 81.6 L508.5 81.6 Z" fill="#e2001a" stroke="#1d1d1b" stroke-width="1.3"/>
</g>
<rect x="25.3" y="32.5" width="88.0" height="83.9" fill="#ed1820"/><text x="74.8" y="99.8" font-family="'Liberation Sans', sans-serif" font-weight="700" font-size="73" fill="#fff" text-anchor="middle" transform="translate(74.8 0) scale(0.93 1) translate(-74.8 0)">3.</text>
</g><rect x="0" y="0" width="856.3" height="856.6" fill="none" stroke="#4d4d4f" stroke-width="1.6"/></g>
<g transform="translate(1607.7 101.5)"><g clip-path="url(#cp4)">
<rect x="0" y="0" width="863.5" height="356.5" fill="url(#sky)"/>
<rect x="0" y="356.5" width="863.5" height="507.0" fill="#e2e3e5"/><g transform="scale(1.00000)"><use href="#stones"/></g>
<line x1="0" y1="356.5" x2="863.5" y2="356.5" stroke="#3a3a3c" stroke-width="1.5"/>
<path d="M395.2 356.5 L395.2 822.0 Q410.1 835.4 428.2 838.4 Q446.3 835.4 461.2 822.0 L461.2 356.5 Z" fill="url(#gHole)" fill-opacity="0.90"/>
<path d="M-5 -5 L142.5 -5 L142.5 -3.0C142.7 3.3 142.6 21.1 143.4 35.0C144.2 48.9 145.7 66.9 147.5 80.6C149.3 94.3 151.7 106.0 154.4 117.0C157.1 128.0 159.7 137.1 163.5 146.6C167.3 156.1 171.8 166.0 177.1 174.0C182.4 182.0 188.6 188.4 195.4 194.5C202.2 200.6 209.8 205.8 218.1 210.4C226.4 215.0 236.0 218.8 245.5 221.8C255.0 224.8 265.2 226.7 275.1 228.6C285.0 230.5 295.6 232.1 304.7 233.2C313.8 234.3 317.0 234.8 330.0 235.2C343.0 235.6 373.8 235.4 382.6 235.5 L473.8 235.5C482.3 235.5 511.1 235.1 525.0 235.5C538.9 235.9 547.1 236.0 557.0 237.7C566.9 239.4 575.7 242.3 584.4 245.7C593.1 249.1 601.8 253.1 609.4 258.2C617.0 263.3 624.2 270.0 629.9 276.5C635.6 283.0 640.2 289.8 643.6 297.0C647.0 304.2 648.8 313.2 650.0 319.7C651.2 326.1 650.8 329.6 650.9 335.7C651.0 341.8 650.9 353.0 650.9 356.5 L-5 356.5 Z" fill="url(#fixg)" stroke="none"/><path d="M142.5 -3.0C142.7 3.3 142.6 21.1 143.4 35.0C144.2 48.9 145.7 66.9 147.5 80.6C149.3 94.3 151.7 106.0 154.4 117.0C157.1 128.0 159.7 137.1 163.5 146.6C167.3 156.1 171.8 166.0 177.1 174.0C182.4 182.0 188.6 188.4 195.4 194.5C202.2 200.6 209.8 205.8 218.1 210.4C226.4 215.0 236.0 218.8 245.5 221.8C255.0 224.8 265.2 226.7 275.1 228.6C285.0 230.5 295.6 232.1 304.7 233.2C313.8 234.3 317.0 234.8 330.0 235.2C343.0 235.6 373.8 235.4 382.6 235.5" fill="none" stroke="#58585a" stroke-width="1.2"/><path d="M473.8 235.5C482.3 235.5 511.1 235.1 525.0 235.5C538.9 235.9 547.1 236.0 557.0 237.7C566.9 239.4 575.7 242.3 584.4 245.7C593.1 249.1 601.8 253.1 609.4 258.2C617.0 263.3 624.2 270.0 629.9 276.5C635.6 283.0 640.2 289.8 643.6 297.0C647.0 304.2 648.8 313.2 650.0 319.7C651.2 326.1 650.8 329.6 650.9 335.7C651.0 341.8 650.9 353.0 650.9 356.5" fill="none" stroke="#58585a" stroke-width="1.2"/><rect x="382.6" y="235.5" width="91.2" height="121.0" fill="#9b9c9e"/>
<path d="M411.3 728.7 L445.1 728.7 L445.1 808.4 Q441.2 819.7 428.2 829.3 Q415.2 819.7 411.3 808.4 L411.3 728.7 Z" fill="url(#gScrew)" stroke="#1d1d1b" stroke-width="1.3"/>
<path d="M445.1 729.7 C452.2 728.7 452.2 737.7 442.2 740.7 C428.2 744.7 418.2 745.7 411.2 749.7 C403.2 750.7 403.2 742.7 413.2 741.7 C423.2 740.7 436.2 737.7 445.1 729.7 Z" fill="#f4f4f4" stroke="#1d1d1b" stroke-width="1.2"/>
<path d="M445.1 750.9 C452.2 749.9 452.2 758.9 442.2 761.9 C428.2 765.9 418.2 766.9 411.2 770.9 C403.2 771.9 403.2 763.9 413.2 762.9 C423.2 761.9 436.2 758.9 445.1 750.9 Z" fill="#f4f4f4" stroke="#1d1d1b" stroke-width="1.2"/>
<path d="M445.1 772.1 C452.2 771.1 452.2 780.1 442.2 783.1 C428.2 787.1 418.2 788.1 411.2 792.1 C403.2 793.1 403.2 785.1 413.2 784.1 C423.2 783.1 436.2 780.1 445.1 772.1 Z" fill="#f4f4f4" stroke="#1d1d1b" stroke-width="1.2"/>
<path d="M445.1 793.3 C452.2 792.3 452.2 801.3 442.2 804.3 C428.2 808.3 418.2 809.3 411.2 813.3 C403.2 814.3 403.2 806.3 413.2 805.3 C423.2 804.3 436.2 801.3 445.1 793.3 Z" fill="#f4f4f4" stroke="#1d1d1b" stroke-width="1.2"/>
<path d="M396.2 686.5 L460.2 686.5 L460.2 717.5 L455.0 729.2 L401.4 729.2 L396.2 717.5 Z" fill="url(#gNut)" stroke="#1d1d1b" stroke-width="1.8"/>
<line x1="396.2" y1="717.5" x2="460.2" y2="717.5" stroke="#1d1d1b" stroke-width="1.5"/>
<rect x="399.9" y="675.7" width="56.6" height="10.5" fill="url(#gNeckR)" stroke="#1d1d1b" stroke-width="1.4"/>
<path d="M379.9 492.7 L476.5 492.7 L476.5 599.7 L462.7 644.7 L461.0 652.7 L395.4 652.7 L393.7 644.7 L379.9 599.7 Z" fill="#e2001a" stroke="#1d1d1b" stroke-width="1.8"/>
<path d="M384.0 356.7 L472.4 356.7 L461.6 454.7 L394.8 454.7 Z" fill="#e2001a" stroke="#1d1d1b" stroke-width="1.8"/>
<path d="M395.2 356.7 L414.2 356.7 L427.0 454.2 L396.2 454.7 Z" fill="url(#gShaftL)" stroke="#1d1d1b" stroke-width="1.3"/>
<path d="M442.2 356.7 L461.2 356.7 L460.2 454.7 L429.4 454.2 Z" fill="url(#gShaftR)" stroke="#1d1d1b" stroke-width="1.3"/>
<line x1="428.2" y1="356.7" x2="428.2" y2="448.7" stroke="#1d1d1b" stroke-width="1.3"/>
<rect x="395.6" y="465.7" width="27.6" height="209.0" fill="url(#gShaftL)" stroke="#1d1d1b" stroke-width="1.8"/>
<rect x="433.2" y="465.7" width="27.6" height="209.0" fill="url(#gShaftR)" stroke="#1d1d1b" stroke-width="1.8"/>
<path d="M423.2 454.6 L390.9 454.6 L395.6 466.3 L423.2 466.3 Z" fill="url(#gShaftL)" stroke="#1d1d1b" stroke-width="1.5"/>
<path d="M433.2 454.6 L465.5 454.6 L460.8 466.3 L433.2 466.3 Z" fill="url(#gShaftR)" stroke="#1d1d1b" stroke-width="1.5"/>
<path d="M423.2 493.5 L390.0 493.5 L395.6 504.3 L423.2 504.3 Z" fill="url(#gShaftL)" stroke="#1d1d1b" stroke-width="1.5"/>
<path d="M433.2 493.5 L466.4 493.5 L460.8 504.3 L433.2 504.3 Z" fill="url(#gShaftR)" stroke="#1d1d1b" stroke-width="1.5"/>
<path d="M423.2 530.4 L390.0 530.4 L395.6 540.8 L423.2 540.8 Z" fill="url(#gShaftL)" stroke="#1d1d1b" stroke-width="1.5"/>
<path d="M433.2 530.4 L466.4 530.4 L460.8 540.8 L433.2 540.8 Z" fill="url(#gShaftR)" stroke="#1d1d1b" stroke-width="1.5"/>
<path d="M423.2 567.2 L390.0 567.2 L395.6 577.3 L423.2 577.3 Z" fill="url(#gShaftL)" stroke="#1d1d1b" stroke-width="1.5"/>
<path d="M433.2 567.2 L466.4 567.2 L460.8 577.3 L433.2 577.3 Z" fill="url(#gShaftR)" stroke="#1d1d1b" stroke-width="1.5"/>
<path d="M423.2 604.5 L390.0 604.5 L395.6 614.9 L423.2 614.9 Z" fill="url(#gShaftL)" stroke="#1d1d1b" stroke-width="1.5"/>
<path d="M433.2 604.5 L466.4 604.5 L460.8 614.9 L433.2 614.9 Z" fill="url(#gShaftR)" stroke="#1d1d1b" stroke-width="1.5"/>
<line x1="395.6" y1="641.0" x2="460.8" y2="641.0" stroke="#1d1d1b" stroke-width="1.5"/>
<line x1="395.6" y1="652.2" x2="460.8" y2="652.2" stroke="#1d1d1b" stroke-width="1.5"/>
<rect x="423.6" y="450.0" width="9.2" height="224.6" fill="#e2001a" stroke="#1d1d1b" stroke-width="1.6"/>
<path d="M385.7 165.2 L470.7 165.2 L476.7 171.2 L476.7 203.8 L470.7 209.8 L385.7 209.8 L379.7 203.8 L379.7 171.2 Z" fill="#d5d6d8" stroke="#1d1d1b" stroke-width="1.6"/>
<rect x="403.7" y="165.2" width="49.0" height="44.6" fill="url(#gHexC)" stroke="#1d1d1b" stroke-width="1.4"/>
<rect x="386.6" y="235.9" width="83.2" height="104.8" fill="url(#gSleeve)" stroke="#1d1d1b" stroke-width="1.6"/>
<rect x="411.0" y="341.7" width="34.4" height="15.0" fill="url(#gNeck)" stroke="#1d1d1b" stroke-width="1.2"/>
<rect x="324.8" y="209.8" width="206.8" height="26.1" fill="url(#gWasher)" stroke="#1d1d1b" stroke-width="1.6"/>
<path d="M348.2 111.7 L349.2 104.5 L354.7 98.0 L364.9 92.4 L377.6 89.3 L377.6 78.8 L403.3 97.7 L377.6 116.1 L377.6 106.7 L371.4 108.5 L367.0 112.0 L357.6 115.3 Z" fill="#b10a1f"/>
<path d="M499.9 111.7 L498.9 104.5 L493.9 98.7 L483.7 93.3 L471.4 89.6 L471.4 106.7 L478.6 109.1 L481.5 112.2 L492.4 115.3 Z" fill="#b10a1f"/>
<path d="M348.2 111.0 A75.8 29.0 0 0 0 499.9 111.0 L481.5 111.7 A57.2 11.6 0 0 1 367.0 111.7 Z" fill="#e2001a"/>
<path d="M348.2 111.0 A75.8 29.0 0 0 0 499.9 111.0" fill="none" stroke="#1d1d1b" stroke-width="1.2"/>
<path d="M367.0 111.7 A57.2 11.6 0 0 0 481.5 111.7" fill="none" stroke="#1d1d1b" stroke-width="1.0"/>
<rect x="30.3" y="34.6" width="88.9" height="84.7" fill="#ed1820"/><text x="81.2" y="101.9" font-family="'Liberation Sans', sans-serif" font-weight="700" font-size="73" fill="#fff" text-anchor="middle" transform="translate(81.2 0) scale(0.93 1) translate(-81.2 0)">4.</text>
</g><rect x="0" y="0" width="858.5" height="858.5" fill="none" stroke="#4d4d4f" stroke-width="1.6"/></g>
<g transform="translate(1609.6 1070.5)"><g clip-path="url(#cp5)">
<rect x="0" y="0" width="863.4" height="356.4" fill="url(#sky)"/>
<rect x="0" y="356.4" width="863.4" height="507.1" fill="#e2e3e5"/><g transform="scale(1.00000)"><use href="#stones"/></g>
<line x1="0" y1="356.4" x2="863.4" y2="356.4" stroke="#3a3a3c" stroke-width="1.5"/>
<path d="M394.8 356.4 L394.8 822.0 Q409.7 835.4 427.8 838.4 Q445.9 835.4 460.8 822.0 L460.8 356.4 Z" fill="url(#gHole)" fill-opacity="0.90"/>
<path d="M-5 -5 L142.5 -5 L142.5 -3.0C142.7 3.3 142.6 21.1 143.4 35.0C144.2 48.9 145.7 66.9 147.5 80.6C149.3 94.3 151.7 106.0 154.4 117.0C157.1 128.0 159.7 137.1 163.5 146.6C167.3 156.1 171.8 166.0 177.1 174.0C182.4 182.0 188.6 188.4 195.4 194.5C202.2 200.6 209.8 205.8 218.1 210.4C226.4 215.0 236.0 218.8 245.5 221.8C255.0 224.8 265.2 226.7 275.1 228.6C285.0 230.5 295.6 232.1 304.7 233.2C313.8 234.3 317.1 234.8 330.0 235.2C342.9 235.6 373.5 235.4 382.2 235.5 L473.4 235.5C482.0 235.5 511.1 235.1 525.0 235.5C538.9 235.9 547.1 236.0 557.0 237.7C566.9 239.4 575.7 242.3 584.4 245.7C593.1 249.1 601.8 253.1 609.4 258.2C617.0 263.3 624.2 270.0 629.9 276.5C635.6 283.0 640.2 289.8 643.6 297.0C647.0 304.2 648.8 313.2 650.0 319.7C651.2 326.1 650.8 329.6 650.9 335.7C651.0 341.8 650.9 352.9 650.9 356.4 L-5 356.4 Z" fill="url(#fixg)" stroke="none"/><path d="M142.5 -3.0C142.7 3.3 142.6 21.1 143.4 35.0C144.2 48.9 145.7 66.9 147.5 80.6C149.3 94.3 151.7 106.0 154.4 117.0C157.1 128.0 159.7 137.1 163.5 146.6C167.3 156.1 171.8 166.0 177.1 174.0C182.4 182.0 188.6 188.4 195.4 194.5C202.2 200.6 209.8 205.8 218.1 210.4C226.4 215.0 236.0 218.8 245.5 221.8C255.0 224.8 265.2 226.7 275.1 228.6C285.0 230.5 295.6 232.1 304.7 233.2C313.8 234.3 317.1 234.8 330.0 235.2C342.9 235.6 373.5 235.4 382.2 235.5" fill="none" stroke="#58585a" stroke-width="1.2"/><path d="M473.4 235.5C482.0 235.5 511.1 235.1 525.0 235.5C538.9 235.9 547.1 236.0 557.0 237.7C566.9 239.4 575.7 242.3 584.4 245.7C593.1 249.1 601.8 253.1 609.4 258.2C617.0 263.3 624.2 270.0 629.9 276.5C635.6 283.0 640.2 289.8 643.6 297.0C647.0 304.2 648.8 313.2 650.0 319.7C651.2 326.1 650.8 329.6 650.9 335.7C651.0 341.8 650.9 352.9 650.9 356.4" fill="none" stroke="#58585a" stroke-width="1.2"/><rect x="382.2" y="235.5" width="91.2" height="120.9" fill="#9b9c9e"/>
<path d="M410.9 728.6 L444.7 728.6 L444.7 808.3 Q440.8 819.6 427.8 829.2 Q414.8 819.6 410.9 808.3 L410.9 728.6 Z" fill="url(#gScrew)" stroke="#1d1d1b" stroke-width="1.3"/>
<path d="M444.7 729.6 C451.8 728.6 451.8 737.6 441.8 740.6 C427.8 744.6 417.8 745.6 410.8 749.6 C402.8 750.6 402.8 742.6 412.8 741.6 C422.8 740.6 435.8 737.6 444.7 729.6 Z" fill="#f4f4f4" stroke="#1d1d1b" stroke-width="1.2"/>
<path d="M444.7 750.8 C451.8 749.8 451.8 758.8 441.8 761.8 C427.8 765.8 417.8 766.8 410.8 770.8 C402.8 771.8 402.8 763.8 412.8 762.8 C422.8 761.8 435.8 758.8 444.7 750.8 Z" fill="#f4f4f4" stroke="#1d1d1b" stroke-width="1.2"/>
<path d="M444.7 772.0 C451.8 771.0 451.8 780.0 441.8 783.0 C427.8 787.0 417.8 788.0 410.8 792.0 C402.8 793.0 402.8 785.0 412.8 784.0 C422.8 783.0 435.8 780.0 444.7 772.0 Z" fill="#f4f4f4" stroke="#1d1d1b" stroke-width="1.2"/>
<path d="M444.7 793.2 C451.8 792.2 451.8 801.2 441.8 804.2 C427.8 808.2 417.8 809.2 410.8 813.2 C402.8 814.2 402.8 806.2 412.8 805.2 C422.8 804.2 435.8 801.2 444.7 793.2 Z" fill="#f4f4f4" stroke="#1d1d1b" stroke-width="1.2"/>
<path d="M395.8 686.4 L459.8 686.4 L459.8 717.4 L454.6 729.1 L401.0 729.1 L395.8 717.4 Z" fill="url(#gNut)" stroke="#1d1d1b" stroke-width="1.8"/>
<line x1="395.8" y1="717.4" x2="459.8" y2="717.4" stroke="#1d1d1b" stroke-width="1.5"/>
<rect x="399.5" y="675.6" width="56.6" height="10.5" fill="url(#gNeckR)" stroke="#1d1d1b" stroke-width="1.4"/>
<path d="M379.5 492.6 L476.1 492.6 L476.1 599.6 L462.3 644.6 L460.6 652.6 L395.0 652.6 L393.3 644.6 L379.5 599.6 Z" fill="#e2001a" stroke="#1d1d1b" stroke-width="1.8"/>
<path d="M383.6 356.6 L472.0 356.6 L461.2 454.6 L394.4 454.6 Z" fill="#e2001a" stroke="#1d1d1b" stroke-width="1.8"/>
<path d="M394.8 356.6 L413.8 356.6 L426.6 454.1 L395.8 454.6 Z" fill="url(#gShaftL)" stroke="#1d1d1b" stroke-width="1.3"/>
<path d="M441.8 356.6 L460.8 356.6 L459.8 454.6 L429.0 454.1 Z" fill="url(#gShaftR)" stroke="#1d1d1b" stroke-width="1.3"/>
<line x1="427.8" y1="356.6" x2="427.8" y2="448.6" stroke="#1d1d1b" stroke-width="1.3"/>
<rect x="395.2" y="465.6" width="27.6" height="209.0" fill="url(#gShaftL)" stroke="#1d1d1b" stroke-width="1.8"/>
<rect x="432.8" y="465.6" width="27.6" height="209.0" fill="url(#gShaftR)" stroke="#1d1d1b" stroke-width="1.8"/>
<path d="M422.8 454.5 L390.5 454.5 L395.2 466.2 L422.8 466.2 Z" fill="url(#gShaftL)" stroke="#1d1d1b" stroke-width="1.5"/>
<path d="M432.8 454.5 L465.1 454.5 L460.4 466.2 L432.8 466.2 Z" fill="url(#gShaftR)" stroke="#1d1d1b" stroke-width="1.5"/>
<path d="M422.8 493.4 L389.6 493.4 L395.2 504.2 L422.8 504.2 Z" fill="url(#gShaftL)" stroke="#1d1d1b" stroke-width="1.5"/>
<path d="M432.8 493.4 L466.0 493.4 L460.4 504.2 L432.8 504.2 Z" fill="url(#gShaftR)" stroke="#1d1d1b" stroke-width="1.5"/>
<path d="M422.8 530.3 L389.6 530.3 L395.2 540.7 L422.8 540.7 Z" fill="url(#gShaftL)" stroke="#1d1d1b" stroke-width="1.5"/>
<path d="M432.8 530.3 L466.0 530.3 L460.4 540.7 L432.8 540.7 Z" fill="url(#gShaftR)" stroke="#1d1d1b" stroke-width="1.5"/>
<path d="M422.8 567.1 L389.6 567.1 L395.2 577.2 L422.8 577.2 Z" fill="url(#gShaftL)" stroke="#1d1d1b" stroke-width="1.5"/>
<path d="M432.8 567.1 L466.0 567.1 L460.4 577.2 L432.8 577.2 Z" fill="url(#gShaftR)" stroke="#1d1d1b" stroke-width="1.5"/>
<path d="M422.8 604.4 L389.6 604.4 L395.2 614.8 L422.8 614.8 Z" fill="url(#gShaftL)" stroke="#1d1d1b" stroke-width="1.5"/>
<path d="M432.8 604.4 L466.0 604.4 L460.4 614.8 L432.8 614.8 Z" fill="url(#gShaftR)" stroke="#1d1d1b" stroke-width="1.5"/>
<line x1="395.2" y1="640.9" x2="460.4" y2="640.9" stroke="#1d1d1b" stroke-width="1.5"/>
<line x1="395.2" y1="652.1" x2="460.4" y2="652.1" stroke="#1d1d1b" stroke-width="1.5"/>
<rect x="423.2" y="449.9" width="9.2" height="224.6" fill="#e2001a" stroke="#1d1d1b" stroke-width="1.6"/>
<path d="M355.0 209.7 L355.0 158.1 Q355.0 135.1 378.0 135.1 L477.6 135.1 Q500.6 135.1 500.6 158.1 L500.6 209.7 Z" fill="url(#gCap)" stroke="#58585a" stroke-width="1.3"/>
<path d="M385.3 165.1 L470.3 165.1 L476.3 171.1 L476.3 203.7 L470.3 209.7 L385.3 209.7 L379.3 203.7 L379.3 171.1 Z" fill="#d5d6d8" stroke="#1d1d1b" stroke-width="1.6"/>
<rect x="403.3" y="165.1" width="49.0" height="44.6" fill="url(#gHexC)" stroke="#1d1d1b" stroke-width="1.4"/>
<rect x="386.2" y="235.8" width="83.2" height="104.8" fill="url(#gSleeve)" stroke="#1d1d1b" stroke-width="1.6"/>
<rect x="410.6" y="341.6" width="34.4" height="15.0" fill="url(#gNeck)" stroke="#1d1d1b" stroke-width="1.2"/>
<rect x="324.4" y="209.7" width="206.8" height="26.1" fill="url(#gWasher)" stroke="#1d1d1b" stroke-width="1.6"/>
<rect x="31.6" y="37.6" width="89.7" height="84.7" fill="#ed1820"/>
<path d="M36.9 89.2C37.6 88.7 39.5 86.9 40.9 86.4C42.3 85.8 44.0 85.6 45.3 85.7C46.5 85.9 47.3 86.4 48.4 87.3C49.4 88.2 50.4 89.5 51.5 91.0C52.5 92.6 53.5 94.8 54.6 96.6C55.6 98.4 57.2 101.0 57.7 101.9 L57.7 101.9C58.7 100.2 61.8 94.9 63.9 91.6C66.0 88.3 68.0 85.1 70.1 82.0C72.2 79.0 74.5 76.0 76.6 73.3C78.8 70.6 80.5 68.5 83.2 65.9C85.8 63.2 89.4 59.9 92.5 57.3C95.6 54.7 98.4 52.6 101.8 50.5C105.2 48.3 111.1 45.4 113.0 44.4 L114.2 47.5C113.0 48.2 109.6 49.6 106.8 51.6C103.9 53.6 100.3 56.6 97.1 59.6C94.0 62.7 91.0 65.9 88.0 69.6C85.0 73.3 81.6 78.0 79.1 81.7C76.6 85.4 75.0 88.2 73.1 91.6C71.2 95.1 69.2 99.1 67.6 102.2C66.1 105.3 64.8 108.5 63.9 110.3C63.0 112.0 63.1 111.9 62.0 112.8C61.0 113.6 59.0 114.6 57.7 115.6C56.3 116.5 54.6 117.9 54.0 118.3 L54.0 118.3C53.6 117.5 52.8 115.3 52.1 113.4C51.4 111.4 50.5 108.8 49.6 106.5C48.7 104.3 47.5 101.8 46.5 99.7C45.5 97.6 44.4 95.6 43.4 94.1C42.4 92.7 41.4 91.8 40.3 91.0C39.2 90.2 37.4 89.5 36.9 89.2 Z" fill="#fff"/>
</g><rect x="0" y="0" width="858.4" height="858.5" fill="none" stroke="#4d4d4f" stroke-width="1.6"/></g>
</svg>
</body></html>
